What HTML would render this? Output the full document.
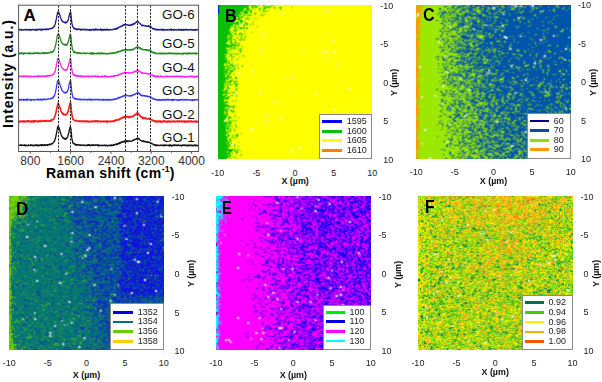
<!DOCTYPE html>
<html><head><meta charset="utf-8">
<style>
html,body{margin:0;padding:0;background:#fff;}
body{width:602px;height:382px;position:relative;overflow:hidden;font-family:"Liberation Sans",sans-serif;color:#222;}
.a{position:absolute;left:0;top:0;}
.go{position:absolute;right:407.4px;font-size:13.3px;line-height:13.3px;color:#111;white-space:nowrap;}
.xt{position:absolute;top:154.5px;width:40px;text-align:center;font-size:12px;line-height:12px;color:#333;}
.lab{position:absolute;font-weight:bold;color:#000;white-space:nowrap;}
.m{position:absolute;width:154px;height:154px;}
.m canvas{position:absolute;left:0;top:0;width:154px;height:154px;}
.pl{position:absolute;font-weight:bold;font-size:17.5px;line-height:17.5px;color:#000;}
.tk{position:absolute;font-size:9px;line-height:9px;color:#222;white-space:nowrap;}
.xl{position:absolute;font-weight:bold;font-size:8.9px;line-height:8.9px;color:#111;white-space:nowrap;width:60px;text-align:center;}
.yl{position:absolute;font-weight:bold;font-size:8.9px;line-height:8.9px;color:#111;white-space:nowrap;transform:rotate(-90deg);transform-origin:0 0;}
.lg{position:absolute;background:#fff;border:1px solid #8a8a8a;box-sizing:border-box;}
.lg i{position:absolute;height:3px;width:19.5px;}
.lg b{position:absolute;font-weight:normal;font-size:9px;line-height:9px;color:#222;}
</style></head><body>
<svg class="a" width="210" height="185" viewBox="0 0 210 185">
<g fill="none" stroke-width="1.3" stroke-linejoin="round"><path d="M18.5 29.82 L18.7 29.60 L19.0 29.81 L19.2 29.83 L19.5 30.01 L19.7 29.80 L20.0 29.43 L20.2 29.62 L20.5 29.45 L20.7 29.67 L21.0 29.63 L21.2 29.69 L21.5 30.21 L21.8 29.50 L22.0 29.60 L22.3 29.60 L22.5 30.21 L22.8 30.22 L23.0 29.98 L23.3 29.86 L23.5 29.65 L23.8 29.74 L24.0 29.59 L24.3 29.91 L24.5 29.64 L24.8 29.62 L25.0 29.91 L25.3 29.25 L25.5 29.57 L25.8 29.39 L26.0 29.90 L26.3 29.93 L26.5 29.82 L26.8 29.75 L27.0 29.54 L27.3 29.65 L27.5 29.84 L27.8 29.98 L28.1 29.86 L28.3 29.37 L28.6 29.94 L28.8 29.64 L29.1 29.59 L29.3 30.12 L29.6 29.69 L29.8 29.34 L30.1 30.27 L30.3 29.79 L30.6 29.73 L30.8 29.93 L31.1 29.56 L31.3 29.71 L31.6 30.10 L31.8 29.46 L32.1 29.50 L32.3 29.42 L32.6 29.28 L32.8 29.58 L33.1 29.65 L33.3 30.04 L33.6 29.50 L33.8 29.84 L34.1 29.80 L34.4 30.02 L34.6 29.94 L34.9 29.81 L35.1 29.30 L35.4 30.23 L35.6 30.06 L35.9 29.58 L36.1 29.24 L36.4 29.48 L36.6 30.17 L36.9 30.34 L37.1 29.53 L37.4 29.84 L37.6 29.94 L37.9 29.35 L38.1 29.31 L38.4 29.57 L38.6 29.54 L38.9 29.49 L39.1 29.16 L39.4 29.42 L39.6 29.45 L39.9 29.43 L40.1 30.02 L40.4 29.22 L40.7 29.30 L40.9 29.42 L41.2 30.11 L41.4 29.73 L41.7 29.31 L41.9 30.05 L42.2 29.58 L42.4 29.24 L42.7 29.88 L42.9 29.06 L43.2 29.34 L43.4 29.53 L43.7 29.39 L43.9 29.29 L44.2 29.42 L44.4 29.13 L44.7 29.62 L44.9 29.54 L45.2 29.12 L45.4 29.39 L45.7 29.63 L45.9 29.10 L46.2 28.94 L46.4 29.46 L46.7 29.70 L47.0 29.33 L47.2 29.31 L47.5 29.33 L47.7 28.83 L48.0 29.49 L48.2 28.82 L48.5 29.50 L48.7 29.34 L49.0 28.90 L49.2 28.73 L49.5 28.77 L49.7 28.87 L50.0 28.88 L50.2 28.83 L50.5 28.65 L50.7 28.80 L51.0 28.61 L51.2 28.45 L51.5 28.53 L51.7 28.23 L52.0 28.18 L52.2 27.66 L52.5 28.00 L52.7 28.05 L53.0 27.85 L53.3 27.54 L53.5 27.02 L53.8 27.07 L54.0 26.50 L54.3 25.67 L54.5 26.39 L54.8 25.39 L55.0 24.31 L55.3 23.46 L55.5 22.58 L55.8 21.73 L56.0 20.28 L56.3 19.13 L56.5 18.02 L56.8 15.83 L57.0 15.07 L57.3 14.10 L57.5 12.95 L57.8 12.28 L58.0 11.93 L58.3 12.68 L58.5 12.27 L58.8 12.25 L59.0 13.41 L59.3 13.77 L59.6 14.22 L59.8 15.01 L60.1 15.62 L60.3 17.27 L60.6 17.62 L60.8 18.30 L61.1 18.66 L61.3 19.09 L61.6 20.66 L61.8 20.06 L62.1 21.17 L62.3 20.91 L62.6 21.82 L62.8 21.61 L63.1 21.53 L63.3 22.09 L63.6 22.15 L63.8 22.11 L64.1 22.40 L64.3 22.55 L64.6 22.16 L64.8 22.35 L65.1 22.77 L65.3 21.94 L65.6 23.03 L65.9 22.42 L66.1 22.69 L66.4 22.47 L66.6 22.15 L66.9 22.07 L67.1 21.66 L67.4 21.89 L67.6 21.41 L67.9 20.25 L68.1 20.01 L68.4 19.23 L68.6 18.46 L68.9 16.71 L69.1 15.81 L69.4 14.54 L69.6 14.21 L69.9 13.08 L70.1 12.78 L70.4 11.95 L70.6 11.91 L70.9 14.08 L71.1 15.78 L71.4 18.52 L71.6 21.18 L71.9 23.62 L72.2 24.18 L72.4 25.72 L72.7 26.68 L72.9 26.99 L73.2 27.41 L73.4 27.42 L73.7 28.37 L73.9 27.97 L74.2 28.03 L74.4 28.17 L74.7 28.74 L74.9 28.99 L75.2 28.58 L75.4 28.90 L75.7 28.96 L75.9 28.65 L76.2 29.17 L76.4 29.79 L76.7 29.29 L76.9 29.73 L77.2 29.02 L77.4 29.18 L77.7 29.47 L77.9 29.32 L78.2 29.11 L78.5 29.34 L78.7 29.01 L79.0 29.41 L79.2 29.12 L79.5 29.01 L79.7 28.99 L80.0 29.64 L80.2 29.22 L80.5 30.00 L80.7 29.79 L81.0 30.05 L81.2 29.21 L81.5 29.86 L81.7 29.53 L82.0 29.58 L82.2 29.55 L82.5 29.71 L82.7 29.49 L83.0 29.06 L83.2 29.55 L83.5 29.42 L83.7 29.30 L84.0 29.64 L84.2 29.94 L84.5 29.75 L84.8 29.30 L85.0 30.06 L85.3 29.77 L85.5 29.33 L85.8 29.39 L86.0 29.62 L86.3 29.40 L86.5 29.58 L86.8 29.96 L87.0 30.07 L87.3 29.82 L87.5 29.38 L87.8 29.80 L88.0 29.90 L88.3 29.87 L88.5 30.08 L88.8 29.69 L89.0 29.99 L89.3 29.56 L89.5 30.32 L89.8 29.57 L90.0 29.85 L90.3 30.22 L90.5 29.47 L90.8 29.75 L91.1 30.30 L91.3 29.93 L91.6 29.60 L91.8 29.81 L92.1 29.47 L92.3 29.48 L92.6 29.50 L92.8 29.60 L93.1 29.32 L93.3 29.51 L93.6 29.57 L93.8 30.28 L94.1 29.45 L94.3 29.33 L94.6 29.79 L94.8 29.84 L95.1 29.16 L95.3 30.20 L95.6 29.58 L95.8 29.03 L96.1 29.97 L96.3 29.52 L96.6 29.19 L96.8 29.75 L97.1 29.56 L97.4 29.46 L97.6 29.97 L97.9 29.74 L98.1 29.64 L98.4 29.49 L98.6 29.73 L98.9 29.78 L99.1 30.01 L99.4 29.83 L99.6 29.48 L99.9 29.70 L100.1 29.97 L100.4 29.97 L100.6 28.98 L100.9 29.41 L101.1 29.55 L101.4 30.46 L101.6 29.56 L101.9 29.60 L102.1 29.26 L102.4 29.62 L102.6 29.76 L102.9 29.59 L103.1 30.28 L103.4 29.45 L103.7 29.65 L103.9 29.94 L104.2 29.37 L104.4 29.24 L104.7 30.14 L104.9 29.93 L105.2 29.66 L105.4 29.69 L105.7 29.86 L105.9 30.02 L106.2 29.15 L106.4 29.46 L106.7 30.08 L106.9 30.12 L107.2 29.27 L107.4 29.47 L107.7 29.24 L107.9 29.52 L108.2 30.00 L108.4 29.68 L108.7 30.36 L108.9 29.96 L109.2 29.77 L109.4 29.60 L109.7 29.95 L110.0 29.77 L110.2 29.59 L110.5 29.59 L110.7 29.50 L111.0 29.59 L111.2 29.71 L111.5 29.38 L111.7 29.56 L112.0 29.78 L112.2 29.70 L112.5 29.49 L112.7 29.50 L113.0 29.40 L113.2 29.41 L113.5 29.33 L113.7 29.38 L114.0 29.65 L114.2 29.12 L114.5 28.87 L114.7 28.97 L115.0 29.06 L115.2 28.80 L115.5 29.11 L115.7 29.29 L116.0 28.66 L116.3 28.86 L116.5 28.31 L116.8 28.73 L117.0 29.08 L117.3 28.55 L117.5 27.73 L117.8 28.19 L118.0 28.36 L118.3 28.08 L118.5 27.61 L118.8 27.49 L119.0 27.45 L119.3 26.96 L119.5 27.05 L119.8 27.12 L120.0 26.82 L120.3 26.39 L120.5 26.46 L120.8 26.31 L121.0 26.77 L121.3 26.38 L121.5 26.01 L121.8 26.18 L122.0 25.67 L122.3 25.69 L122.6 25.49 L122.8 25.70 L123.1 24.82 L123.3 25.08 L123.6 25.38 L123.8 25.19 L124.1 24.38 L124.3 25.10 L124.6 24.65 L124.8 24.53 L125.1 24.71 L125.3 24.97 L125.6 24.55 L125.8 24.50 L126.1 24.31 L126.3 24.45 L126.6 24.72 L126.8 24.55 L127.1 24.69 L127.3 24.85 L127.6 24.95 L127.8 25.10 L128.1 24.89 L128.3 25.42 L128.6 25.33 L128.9 25.16 L129.1 25.56 L129.4 25.26 L129.6 25.67 L129.9 25.28 L130.1 24.90 L130.4 24.87 L130.6 25.02 L130.9 25.04 L131.1 25.33 L131.4 24.38 L131.6 24.67 L131.9 24.42 L132.1 24.86 L132.4 24.54 L132.6 24.87 L132.9 24.00 L133.1 23.82 L133.4 24.48 L133.6 23.83 L133.9 23.50 L134.1 24.03 L134.4 23.91 L134.6 23.56 L134.9 23.30 L135.2 23.37 L135.4 22.81 L135.7 22.59 L135.9 22.32 L136.2 22.14 L136.4 21.75 L136.7 21.68 L136.9 22.21 L137.2 21.84 L137.4 21.88 L137.7 21.81 L137.9 21.54 L138.2 21.62 L138.4 21.66 L138.7 22.47 L138.9 22.62 L139.2 22.55 L139.4 22.86 L139.7 23.16 L139.9 23.35 L140.2 23.80 L140.4 23.64 L140.7 23.99 L140.9 24.36 L141.2 24.75 L141.5 24.82 L141.7 25.70 L142.0 25.35 L142.2 25.15 L142.5 25.66 L142.7 25.24 L143.0 25.30 L143.2 25.78 L143.5 25.51 L143.7 25.58 L144.0 25.41 L144.2 25.42 L144.5 25.65 L144.7 25.93 L145.0 25.78 L145.2 25.81 L145.5 25.63 L145.7 25.81 L146.0 26.14 L146.2 26.35 L146.5 26.12 L146.7 26.26 L147.0 26.39 L147.2 26.15 L147.5 26.28 L147.8 26.15 L148.0 26.06 L148.3 26.35 L148.5 25.62 L148.8 26.39 L149.0 26.02 L149.3 26.33 L149.5 26.09 L149.8 27.12 L150.0 26.74 L150.3 26.56 L150.5 26.61 L150.8 26.30 L151.0 27.06 L151.3 27.00 L151.5 27.35 L151.8 27.50 L152.0 27.82 L152.3 28.19 L152.5 28.18 L152.8 28.80 L153.0 28.34 L153.3 29.11 L153.5 28.90 L153.8 28.50 L154.1 29.26 L154.3 29.27 L154.6 29.01 L154.8 29.38 L155.1 29.67 L155.3 29.42 L155.6 29.38 L155.8 29.39 L156.1 29.85 L156.3 29.19 L156.6 29.25 L156.8 29.74 L157.1 29.69 L157.3 29.90 L157.6 29.39 L157.8 29.98 L158.1 29.60 L158.3 29.92 L158.6 29.98 L158.8 29.59 L159.1 29.42 L159.3 29.79 L159.6 29.98 L159.8 29.56 L160.1 29.80 L160.4 29.70 L160.6 29.36 L160.9 29.47 L161.1 29.93 L161.4 29.15 L161.6 29.79 L161.9 29.57 L162.1 29.97 L162.4 29.80 L162.6 30.28 L162.9 29.29 L163.1 29.41 L163.4 30.13 L163.6 30.21 L163.9 30.24 L164.1 29.46 L164.4 29.92 L164.6 29.81 L164.9 29.88 L165.1 29.82 L165.4 30.09 L165.6 29.78 L165.9 30.19 L166.1 29.81 L166.4 29.70 L166.7 29.66 L166.9 29.85 L167.2 30.04 L167.4 29.75 L167.7 29.93 L167.9 29.35 L168.2 29.58 L168.4 29.82 L168.7 29.92 L168.9 29.99 L169.2 30.05 L169.4 29.89 L169.7 29.71 L169.9 29.65 L170.2 29.63 L170.4 29.20 L170.7 29.99 L170.9 29.79 L171.2 29.01 L171.4 30.31 L171.7 29.94 L171.9 29.74 L172.2 29.75 L172.4 29.68 L172.7 29.86 L173.0 29.69 L173.2 29.78 L173.5 29.58 L173.7 30.32 L174.0 30.04 L174.2 29.79 L174.5 30.08 L174.7 30.08 L175.0 29.62 L175.2 29.97 L175.5 29.61 L175.7 29.58 L176.0 29.71 L176.2 29.65 L176.5 29.82 L176.7 30.19 L177.0 29.80 L177.2 29.66 L177.5 29.94 L177.7 29.82 L178.0 29.58 L178.2 30.04 L178.5 29.61 L178.7 29.27 L179.0 29.95 L179.3 29.75 L179.5 29.83 L179.8 29.36 L180.0 29.70 L180.3 29.54 L180.5 29.99 L180.8 29.80 L181.0 29.80 L181.3 30.29 L181.5 29.39 L181.8 29.54 L182.0 30.28 L182.3 29.58 L182.5 29.83 L182.8 29.67 L183.0 29.69 L183.3 30.21 L183.5 29.85 L183.8 29.37 L184.0 29.95 L184.3 30.08 L184.5 30.17 L184.8 30.13 L185.0 29.70 L185.3 29.32 L185.6 29.67 L185.8 29.72 L186.1 29.17 L186.3 29.94 L186.6 29.98 L186.8 29.65 L187.1 29.64 L187.3 30.08 L187.6 30.12 L187.8 29.71 L188.1 29.72 L188.3 30.16 L188.6 29.85 L188.8 29.95 L189.1 29.66 L189.3 29.83 L189.6 29.82 L189.8 29.89 L190.1 29.50 L190.3 29.40 L190.6 29.90 L190.8 29.56 L191.1 30.01 L191.3 29.77 L191.6 29.58 L191.9 29.37 L192.1 29.90 L192.4 29.81 L192.6 29.74 L192.9 30.21 L193.1 29.79 L193.4 29.98 L193.6 29.69 L193.9 30.11 L194.1 30.35 L194.4 29.78 L194.6 29.72 L194.9 29.95 L195.1 29.54 L195.4 29.87 L195.6 29.96 L195.9 29.66 L196.1 30.23 L196.4 29.98 L196.6 29.80 L196.9 29.56 L197.1 29.84 L197.4 29.71 L197.6 29.98 L197.9 29.71 L198.2 29.33" stroke="#1c1c8a"/><path d="M18.5 53.64 L18.7 52.78 L19.0 53.62 L19.2 53.44 L19.5 53.39 L19.7 53.15 L20.0 53.79 L20.2 54.03 L20.5 53.27 L20.7 53.21 L21.0 53.26 L21.2 52.70 L21.5 53.38 L21.8 53.36 L22.0 53.17 L22.3 53.33 L22.5 52.97 L22.8 53.78 L23.0 53.53 L23.3 54.39 L23.5 53.20 L23.8 53.53 L24.0 53.17 L24.3 52.82 L24.5 53.42 L24.8 53.49 L25.0 53.56 L25.3 53.65 L25.5 53.60 L25.8 53.24 L26.0 53.41 L26.3 53.40 L26.5 53.46 L26.8 53.16 L27.0 53.27 L27.3 53.45 L27.5 53.22 L27.8 53.45 L28.1 53.73 L28.3 53.00 L28.6 53.27 L28.8 53.67 L29.1 53.10 L29.3 53.30 L29.6 53.84 L29.8 52.94 L30.1 53.30 L30.3 53.14 L30.6 53.33 L30.8 53.43 L31.1 53.82 L31.3 53.11 L31.6 53.37 L31.8 53.46 L32.1 53.28 L32.3 53.35 L32.6 53.18 L32.8 53.48 L33.1 53.38 L33.3 53.97 L33.6 53.48 L33.8 53.17 L34.1 52.99 L34.4 53.46 L34.6 53.39 L34.9 52.91 L35.1 53.44 L35.4 53.14 L35.6 52.87 L35.9 53.33 L36.1 52.99 L36.4 53.53 L36.6 53.27 L36.9 53.35 L37.1 53.29 L37.4 53.00 L37.6 52.64 L37.9 53.50 L38.1 53.47 L38.4 53.16 L38.6 53.59 L38.9 53.15 L39.1 53.13 L39.4 53.36 L39.6 53.13 L39.9 53.70 L40.1 53.05 L40.4 53.69 L40.7 53.45 L40.9 53.40 L41.2 53.35 L41.4 52.99 L41.7 53.20 L41.9 53.33 L42.2 53.06 L42.4 52.76 L42.7 53.19 L42.9 53.08 L43.2 52.82 L43.4 53.09 L43.7 53.51 L43.9 52.44 L44.2 52.51 L44.4 53.67 L44.7 53.11 L44.9 52.97 L45.2 52.81 L45.4 52.87 L45.7 53.12 L45.9 53.32 L46.2 52.98 L46.4 52.70 L46.7 53.28 L47.0 53.24 L47.2 52.93 L47.5 53.45 L47.7 52.95 L48.0 52.97 L48.2 52.69 L48.5 52.99 L48.7 53.00 L49.0 52.83 L49.2 52.69 L49.5 52.82 L49.7 52.59 L50.0 52.33 L50.2 52.16 L50.5 51.95 L50.7 52.58 L51.0 52.41 L51.2 52.91 L51.5 51.59 L51.7 52.23 L52.0 51.92 L52.2 51.64 L52.5 52.02 L52.7 51.33 L53.0 51.27 L53.3 51.54 L53.5 50.67 L53.8 50.08 L54.0 50.54 L54.3 49.32 L54.5 48.93 L54.8 48.21 L55.0 47.45 L55.3 46.33 L55.5 45.75 L55.8 44.30 L56.0 43.40 L56.3 41.71 L56.5 40.68 L56.8 38.99 L57.0 37.00 L57.3 36.01 L57.5 35.06 L57.8 34.55 L58.0 34.09 L58.3 33.80 L58.5 33.80 L58.8 34.36 L59.0 34.90 L59.3 35.75 L59.6 36.13 L59.8 37.43 L60.1 38.29 L60.3 38.68 L60.6 39.66 L60.8 40.46 L61.1 41.19 L61.3 41.69 L61.6 41.96 L61.8 42.49 L62.1 43.33 L62.3 43.21 L62.6 43.57 L62.8 44.15 L63.1 43.86 L63.3 44.33 L63.6 44.49 L63.8 44.30 L64.1 44.26 L64.3 44.91 L64.6 44.67 L64.8 45.10 L65.1 44.26 L65.3 45.08 L65.6 44.62 L65.9 45.13 L66.1 44.68 L66.4 44.20 L66.6 45.40 L66.9 44.61 L67.1 44.07 L67.4 43.87 L67.6 43.56 L67.9 42.20 L68.1 42.08 L68.4 41.76 L68.6 40.13 L68.9 39.84 L69.1 37.95 L69.4 37.33 L69.6 36.08 L69.9 34.87 L70.1 34.55 L70.4 34.68 L70.6 35.00 L70.9 35.81 L71.1 38.52 L71.4 41.75 L71.6 43.81 L71.9 46.01 L72.2 47.60 L72.4 49.63 L72.7 49.97 L72.9 50.28 L73.2 50.80 L73.4 51.10 L73.7 52.31 L73.9 51.79 L74.2 51.88 L74.4 51.45 L74.7 52.55 L74.9 52.48 L75.2 52.47 L75.4 52.31 L75.7 52.75 L75.9 52.37 L76.2 52.96 L76.4 52.71 L76.7 52.98 L76.9 52.82 L77.2 53.09 L77.4 53.38 L77.7 52.65 L77.9 52.90 L78.2 53.16 L78.5 52.97 L78.7 52.77 L79.0 53.34 L79.2 53.11 L79.5 52.94 L79.7 52.96 L80.0 53.22 L80.2 53.73 L80.5 52.80 L80.7 53.07 L81.0 53.17 L81.2 53.26 L81.5 53.12 L81.7 53.32 L82.0 53.49 L82.2 53.42 L82.5 53.39 L82.7 53.40 L83.0 53.56 L83.2 53.07 L83.5 53.62 L83.7 53.07 L84.0 53.55 L84.2 53.17 L84.5 52.89 L84.8 53.22 L85.0 53.49 L85.3 53.28 L85.5 53.25 L85.8 53.79 L86.0 53.47 L86.3 53.26 L86.5 53.44 L86.8 53.29 L87.0 53.12 L87.3 53.11 L87.5 53.07 L87.8 53.17 L88.0 53.42 L88.3 53.34 L88.5 53.42 L88.8 53.43 L89.0 53.40 L89.3 53.83 L89.5 53.45 L89.8 53.36 L90.0 53.63 L90.3 53.37 L90.5 53.22 L90.8 53.41 L91.1 52.79 L91.3 54.10 L91.6 53.43 L91.8 53.89 L92.1 53.10 L92.3 52.64 L92.6 54.08 L92.8 53.35 L93.1 53.24 L93.3 53.47 L93.6 53.23 L93.8 54.02 L94.1 53.15 L94.3 53.29 L94.6 53.39 L94.8 53.56 L95.1 53.22 L95.3 53.54 L95.6 53.34 L95.8 53.55 L96.1 54.03 L96.3 53.41 L96.6 53.35 L96.8 53.20 L97.1 53.65 L97.4 53.42 L97.6 53.24 L97.9 53.37 L98.1 53.07 L98.4 52.86 L98.6 53.67 L98.9 53.96 L99.1 53.18 L99.4 52.99 L99.6 53.16 L99.9 53.19 L100.1 53.60 L100.4 53.62 L100.6 53.18 L100.9 53.68 L101.1 53.93 L101.4 53.71 L101.6 52.73 L101.9 52.89 L102.1 53.62 L102.4 53.64 L102.6 53.37 L102.9 53.64 L103.1 53.07 L103.4 53.46 L103.7 53.74 L103.9 53.07 L104.2 53.60 L104.4 53.38 L104.7 53.44 L104.9 53.53 L105.2 53.35 L105.4 53.63 L105.7 53.96 L105.9 54.06 L106.2 53.80 L106.4 53.65 L106.7 53.45 L106.9 53.43 L107.2 53.29 L107.4 53.41 L107.7 53.67 L107.9 53.64 L108.2 54.04 L108.4 53.49 L108.7 53.31 L108.9 53.30 L109.2 53.48 L109.4 53.50 L109.7 53.18 L110.0 53.43 L110.2 53.22 L110.5 53.25 L110.7 53.33 L111.0 53.01 L111.2 53.51 L111.5 53.43 L111.7 53.54 L112.0 53.52 L112.2 52.84 L112.5 52.76 L112.7 53.23 L113.0 53.06 L113.2 52.87 L113.5 52.94 L113.7 52.80 L114.0 53.46 L114.2 53.24 L114.5 52.88 L114.7 52.55 L115.0 52.86 L115.2 53.07 L115.5 52.86 L115.7 52.89 L116.0 52.88 L116.3 52.16 L116.5 52.69 L116.8 52.45 L117.0 51.79 L117.3 52.00 L117.5 52.17 L117.8 52.36 L118.0 52.00 L118.3 51.58 L118.5 51.77 L118.8 51.50 L119.0 51.73 L119.3 51.51 L119.5 51.62 L119.8 51.34 L120.0 51.00 L120.3 51.67 L120.5 51.19 L120.8 51.01 L121.0 51.14 L121.3 50.97 L121.5 50.56 L121.8 50.13 L122.0 50.43 L122.3 50.42 L122.6 50.87 L122.8 49.81 L123.1 50.25 L123.3 50.20 L123.6 50.42 L123.8 50.05 L124.1 50.26 L124.3 49.85 L124.6 49.66 L124.8 49.71 L125.1 49.57 L125.3 49.84 L125.6 49.17 L125.8 49.75 L126.1 50.09 L126.3 49.67 L126.6 49.87 L126.8 49.99 L127.1 49.85 L127.3 49.72 L127.6 50.18 L127.8 49.93 L128.1 49.53 L128.3 49.77 L128.6 50.02 L128.9 49.95 L129.1 50.02 L129.4 49.98 L129.6 49.75 L129.9 49.96 L130.1 50.59 L130.4 49.90 L130.6 50.12 L130.9 49.67 L131.1 49.99 L131.4 49.74 L131.6 49.12 L131.9 49.95 L132.1 49.89 L132.4 49.87 L132.6 50.04 L132.9 49.79 L133.1 49.06 L133.4 49.23 L133.6 49.47 L133.9 49.25 L134.1 48.56 L134.4 48.84 L134.6 48.62 L134.9 48.31 L135.2 47.91 L135.4 47.63 L135.7 47.76 L135.9 47.88 L136.2 47.74 L136.4 47.15 L136.7 47.13 L136.9 47.49 L137.2 47.16 L137.4 47.10 L137.7 47.10 L137.9 47.25 L138.2 47.52 L138.4 47.40 L138.7 47.81 L138.9 47.18 L139.2 47.53 L139.4 48.18 L139.7 47.61 L139.9 47.90 L140.2 48.84 L140.4 47.95 L140.7 48.39 L140.9 48.18 L141.2 49.25 L141.5 48.88 L141.7 49.02 L142.0 49.17 L142.2 49.25 L142.5 49.06 L142.7 49.82 L143.0 49.79 L143.2 49.88 L143.5 49.69 L143.7 49.75 L144.0 49.52 L144.2 49.60 L144.5 49.71 L144.7 49.95 L145.0 49.93 L145.2 49.59 L145.5 49.68 L145.7 49.91 L146.0 50.07 L146.2 49.59 L146.5 50.22 L146.7 49.91 L147.0 49.79 L147.2 50.22 L147.5 49.94 L147.8 50.52 L148.0 49.95 L148.3 50.20 L148.5 50.73 L148.8 50.13 L149.0 50.59 L149.3 50.02 L149.5 50.60 L149.8 50.50 L150.0 50.44 L150.3 50.71 L150.5 50.68 L150.8 51.07 L151.0 50.90 L151.3 51.28 L151.5 51.41 L151.8 52.42 L152.0 51.50 L152.3 51.99 L152.5 52.65 L152.8 52.29 L153.0 52.34 L153.3 52.31 L153.5 53.05 L153.8 52.43 L154.1 52.99 L154.3 52.35 L154.6 53.12 L154.8 52.93 L155.1 53.27 L155.3 53.53 L155.6 52.95 L155.8 53.05 L156.1 52.92 L156.3 53.15 L156.6 53.59 L156.8 53.92 L157.1 53.65 L157.3 53.67 L157.6 53.71 L157.8 53.32 L158.1 53.40 L158.3 53.56 L158.6 53.44 L158.8 53.53 L159.1 53.43 L159.3 53.28 L159.6 53.22 L159.8 53.68 L160.1 53.91 L160.4 53.09 L160.6 53.46 L160.9 53.18 L161.1 53.95 L161.4 53.58 L161.6 53.48 L161.9 53.89 L162.1 53.63 L162.4 53.29 L162.6 53.19 L162.9 53.04 L163.1 53.73 L163.4 53.88 L163.6 53.34 L163.9 53.23 L164.1 53.43 L164.4 53.85 L164.6 53.27 L164.9 53.27 L165.1 53.33 L165.4 53.63 L165.6 53.40 L165.9 53.27 L166.1 53.65 L166.4 54.01 L166.7 53.40 L166.9 53.35 L167.2 53.49 L167.4 53.24 L167.7 53.65 L167.9 53.51 L168.2 53.57 L168.4 53.33 L168.7 53.04 L168.9 53.56 L169.2 52.91 L169.4 53.06 L169.7 53.27 L169.9 53.33 L170.2 52.99 L170.4 53.54 L170.7 53.52 L170.9 53.79 L171.2 53.36 L171.4 53.11 L171.7 53.34 L171.9 53.37 L172.2 53.55 L172.4 53.44 L172.7 53.89 L173.0 53.20 L173.2 53.61 L173.5 53.80 L173.7 53.70 L174.0 53.72 L174.2 53.25 L174.5 53.19 L174.7 53.87 L175.0 53.23 L175.2 53.24 L175.5 53.65 L175.7 53.91 L176.0 53.70 L176.2 53.67 L176.5 53.40 L176.7 53.59 L177.0 54.06 L177.2 53.43 L177.5 53.92 L177.7 53.24 L178.0 53.83 L178.2 53.69 L178.5 53.73 L178.7 53.64 L179.0 53.13 L179.3 53.25 L179.5 53.32 L179.8 53.40 L180.0 53.92 L180.3 53.64 L180.5 53.65 L180.8 53.77 L181.0 53.35 L181.3 53.70 L181.5 53.69 L181.8 53.78 L182.0 54.07 L182.3 53.33 L182.5 53.12 L182.8 53.44 L183.0 53.77 L183.3 54.25 L183.5 53.44 L183.8 53.15 L184.0 53.41 L184.3 53.23 L184.5 53.08 L184.8 53.18 L185.0 53.62 L185.3 53.20 L185.6 53.28 L185.8 53.92 L186.1 53.61 L186.3 53.89 L186.6 53.52 L186.8 53.33 L187.1 53.79 L187.3 54.07 L187.6 53.13 L187.8 53.39 L188.1 53.08 L188.3 53.86 L188.6 53.20 L188.8 52.91 L189.1 52.93 L189.3 53.55 L189.6 53.42 L189.8 53.54 L190.1 53.21 L190.3 53.20 L190.6 53.47 L190.8 53.87 L191.1 53.29 L191.3 53.62 L191.6 53.32 L191.9 53.42 L192.1 53.04 L192.4 53.17 L192.6 53.62 L192.9 53.40 L193.1 53.00 L193.4 53.64 L193.6 53.37 L193.9 53.16 L194.1 53.14 L194.4 53.35 L194.6 53.86 L194.9 53.85 L195.1 53.42 L195.4 53.38 L195.6 52.78 L195.9 53.73 L196.1 53.17 L196.4 53.28 L196.6 53.96 L196.9 53.72 L197.1 53.45 L197.4 53.63 L197.6 53.54 L197.9 53.36 L198.2 53.72" stroke="#1e8a1e"/><path d="M18.5 76.32 L18.7 76.62 L19.0 76.60 L19.2 76.29 L19.5 76.60 L19.7 76.36 L20.0 76.00 L20.2 76.43 L20.5 76.48 L20.7 76.23 L21.0 76.54 L21.2 76.14 L21.5 76.80 L21.8 76.26 L22.0 76.58 L22.3 76.66 L22.5 75.94 L22.8 76.67 L23.0 75.94 L23.3 76.25 L23.5 76.03 L23.8 76.70 L24.0 76.09 L24.3 76.02 L24.5 76.46 L24.8 76.46 L25.0 75.74 L25.3 76.38 L25.5 76.54 L25.8 76.60 L26.0 76.30 L26.3 76.33 L26.5 76.37 L26.8 75.94 L27.0 76.51 L27.3 76.28 L27.5 76.01 L27.8 76.69 L28.1 76.12 L28.3 75.90 L28.6 76.79 L28.8 76.72 L29.1 76.70 L29.3 76.92 L29.6 76.28 L29.8 76.92 L30.1 76.26 L30.3 75.99 L30.6 76.85 L30.8 76.48 L31.1 76.93 L31.3 76.17 L31.6 76.60 L31.8 76.46 L32.1 76.37 L32.3 76.23 L32.6 76.48 L32.8 76.38 L33.1 76.53 L33.3 76.34 L33.6 76.70 L33.8 76.35 L34.1 76.91 L34.4 76.50 L34.6 75.83 L34.9 76.34 L35.1 76.71 L35.4 76.28 L35.6 76.62 L35.9 76.81 L36.1 76.55 L36.4 76.14 L36.6 76.23 L36.9 76.36 L37.1 76.59 L37.4 76.63 L37.6 75.95 L37.9 76.25 L38.1 76.58 L38.4 76.90 L38.6 76.69 L38.9 75.61 L39.1 76.62 L39.4 76.32 L39.6 76.23 L39.9 76.33 L40.1 76.36 L40.4 76.66 L40.7 76.56 L40.9 75.79 L41.2 76.47 L41.4 76.01 L41.7 76.72 L41.9 76.31 L42.2 76.15 L42.4 75.93 L42.7 76.53 L42.9 76.04 L43.2 76.09 L43.4 76.39 L43.7 76.04 L43.9 76.42 L44.2 76.38 L44.4 76.15 L44.7 76.89 L44.9 76.15 L45.2 76.38 L45.4 76.50 L45.7 76.19 L45.9 75.85 L46.2 76.16 L46.4 75.67 L46.7 76.33 L47.0 76.35 L47.2 75.53 L47.5 75.83 L47.7 75.66 L48.0 76.13 L48.2 75.64 L48.5 75.76 L48.7 75.62 L49.0 75.77 L49.2 75.40 L49.5 75.88 L49.7 75.92 L50.0 76.02 L50.2 75.23 L50.5 75.71 L50.7 75.73 L51.0 75.64 L51.2 75.43 L51.5 75.57 L51.7 75.21 L52.0 75.20 L52.2 75.06 L52.5 75.04 L52.7 74.60 L53.0 74.55 L53.3 74.18 L53.5 73.88 L53.8 73.55 L54.0 73.89 L54.3 73.00 L54.5 72.56 L54.8 71.51 L55.0 71.47 L55.3 70.42 L55.5 69.37 L55.8 68.34 L56.0 66.81 L56.3 65.95 L56.5 64.21 L56.8 63.52 L57.0 62.27 L57.3 60.19 L57.5 59.40 L57.8 58.68 L58.0 58.48 L58.3 58.41 L58.5 59.12 L58.8 58.94 L59.0 59.93 L59.3 60.20 L59.6 61.22 L59.8 62.61 L60.1 63.23 L60.3 63.35 L60.6 64.47 L60.8 65.26 L61.1 65.75 L61.3 66.54 L61.6 67.12 L61.8 67.43 L62.1 67.85 L62.3 67.84 L62.6 68.57 L62.8 68.34 L63.1 68.60 L63.3 68.82 L63.6 69.17 L63.8 69.57 L64.1 69.69 L64.3 69.86 L64.6 70.10 L64.8 69.96 L65.1 70.16 L65.3 69.53 L65.6 69.82 L65.9 70.05 L66.1 70.38 L66.4 69.73 L66.6 69.65 L66.9 69.59 L67.1 69.27 L67.4 69.17 L67.6 67.87 L67.9 67.44 L68.1 65.97 L68.4 65.86 L68.6 64.95 L68.9 63.47 L69.1 62.74 L69.4 61.62 L69.6 60.72 L69.9 59.88 L70.1 58.63 L70.4 58.44 L70.6 58.42 L70.9 60.48 L71.1 62.78 L71.4 65.65 L71.6 67.50 L71.9 70.12 L72.2 71.09 L72.4 72.08 L72.7 72.81 L72.9 74.06 L73.2 73.92 L73.4 74.74 L73.7 75.00 L73.9 75.35 L74.2 74.82 L74.4 74.81 L74.7 75.55 L74.9 75.69 L75.2 75.65 L75.4 74.93 L75.7 75.41 L75.9 75.90 L76.2 76.30 L76.4 76.02 L76.7 75.54 L76.9 75.38 L77.2 76.01 L77.4 76.16 L77.7 76.13 L77.9 76.54 L78.2 75.78 L78.5 76.36 L78.7 75.78 L79.0 76.57 L79.2 76.46 L79.5 76.04 L79.7 76.35 L80.0 75.93 L80.2 76.16 L80.5 76.50 L80.7 76.01 L81.0 75.96 L81.2 76.74 L81.5 75.70 L81.7 76.08 L82.0 76.01 L82.2 76.76 L82.5 76.44 L82.7 76.35 L83.0 75.95 L83.2 76.67 L83.5 76.52 L83.7 76.84 L84.0 76.35 L84.2 76.19 L84.5 76.76 L84.8 76.46 L85.0 76.16 L85.3 75.86 L85.5 76.12 L85.8 76.40 L86.0 76.65 L86.3 76.58 L86.5 76.51 L86.8 76.29 L87.0 76.35 L87.3 75.87 L87.5 76.26 L87.8 76.64 L88.0 75.91 L88.3 76.08 L88.5 76.32 L88.8 76.56 L89.0 76.88 L89.3 76.65 L89.5 76.11 L89.8 76.59 L90.0 76.74 L90.3 76.31 L90.5 76.30 L90.8 76.20 L91.1 76.19 L91.3 75.98 L91.6 76.62 L91.8 76.11 L92.1 76.66 L92.3 76.19 L92.6 76.34 L92.8 76.32 L93.1 76.12 L93.3 76.40 L93.6 76.08 L93.8 76.15 L94.1 76.36 L94.3 76.56 L94.6 76.61 L94.8 76.55 L95.1 76.46 L95.3 76.41 L95.6 75.57 L95.8 76.23 L96.1 76.19 L96.3 76.65 L96.6 76.61 L96.8 76.50 L97.1 76.36 L97.4 76.71 L97.6 75.97 L97.9 76.58 L98.1 76.12 L98.4 77.07 L98.6 76.42 L98.9 76.35 L99.1 76.37 L99.4 76.26 L99.6 76.35 L99.9 76.38 L100.1 76.96 L100.4 76.63 L100.6 77.09 L100.9 76.25 L101.1 76.35 L101.4 76.49 L101.6 76.66 L101.9 76.60 L102.1 75.92 L102.4 75.95 L102.6 76.45 L102.9 76.08 L103.1 76.88 L103.4 76.98 L103.7 76.57 L103.9 76.69 L104.2 76.60 L104.4 76.39 L104.7 75.60 L104.9 76.63 L105.2 76.43 L105.4 76.37 L105.7 76.45 L105.9 76.18 L106.2 75.95 L106.4 76.79 L106.7 76.40 L106.9 76.52 L107.2 76.35 L107.4 76.88 L107.7 76.94 L107.9 77.10 L108.2 76.30 L108.4 76.40 L108.7 76.43 L108.9 77.11 L109.2 76.56 L109.4 76.66 L109.7 76.84 L110.0 76.69 L110.2 76.23 L110.5 76.26 L110.7 76.40 L111.0 76.23 L111.2 76.53 L111.5 76.32 L111.7 76.31 L112.0 76.14 L112.2 76.30 L112.5 76.30 L112.7 76.28 L113.0 76.40 L113.2 75.57 L113.5 76.03 L113.7 76.02 L114.0 75.47 L114.2 75.67 L114.5 76.45 L114.7 75.76 L115.0 75.66 L115.2 75.30 L115.5 75.40 L115.7 75.49 L116.0 75.97 L116.3 75.83 L116.5 75.44 L116.8 75.32 L117.0 75.68 L117.3 75.44 L117.5 75.38 L117.8 75.18 L118.0 75.02 L118.3 75.12 L118.5 75.29 L118.8 74.50 L119.0 74.31 L119.3 74.69 L119.5 74.28 L119.8 74.34 L120.0 74.18 L120.3 74.14 L120.5 74.39 L120.8 73.92 L121.0 73.70 L121.3 74.13 L121.5 73.24 L121.8 73.11 L122.0 73.09 L122.3 72.96 L122.6 73.23 L122.8 73.45 L123.1 73.44 L123.3 73.42 L123.6 73.08 L123.8 73.04 L124.1 72.76 L124.3 73.44 L124.6 72.15 L124.8 72.08 L125.1 72.66 L125.3 72.41 L125.6 72.44 L125.8 72.49 L126.1 72.65 L126.3 72.65 L126.6 72.89 L126.8 72.66 L127.1 72.76 L127.3 72.71 L127.6 73.09 L127.8 72.88 L128.1 72.92 L128.3 72.79 L128.6 73.28 L128.9 72.87 L129.1 72.71 L129.4 72.81 L129.6 73.06 L129.9 73.07 L130.1 72.98 L130.4 72.69 L130.6 72.44 L130.9 72.90 L131.1 73.01 L131.4 72.68 L131.6 72.68 L131.9 72.93 L132.1 72.80 L132.4 72.53 L132.6 72.22 L132.9 72.65 L133.1 72.50 L133.4 71.98 L133.6 72.37 L133.9 71.90 L134.1 71.73 L134.4 71.76 L134.6 71.92 L134.9 71.55 L135.2 71.52 L135.4 71.23 L135.7 71.45 L135.9 70.79 L136.2 71.45 L136.4 70.92 L136.7 70.75 L136.9 70.38 L137.2 70.71 L137.4 70.31 L137.7 70.57 L137.9 70.21 L138.2 70.00 L138.4 70.72 L138.7 70.65 L138.9 71.21 L139.2 70.86 L139.4 70.98 L139.7 71.50 L139.9 72.01 L140.2 71.76 L140.4 71.73 L140.7 71.92 L140.9 72.17 L141.2 73.07 L141.5 72.89 L141.7 72.43 L142.0 73.26 L142.2 72.67 L142.5 72.51 L142.7 72.87 L143.0 72.81 L143.2 73.25 L143.5 73.54 L143.7 73.26 L144.0 73.33 L144.2 73.32 L144.5 73.15 L144.7 73.42 L145.0 73.37 L145.2 73.34 L145.5 73.50 L145.7 73.02 L146.0 73.44 L146.2 73.57 L146.5 73.69 L146.7 73.83 L147.0 73.30 L147.2 73.66 L147.5 74.03 L147.8 73.91 L148.0 73.81 L148.3 73.92 L148.5 73.52 L148.8 74.17 L149.0 73.73 L149.3 73.85 L149.5 74.25 L149.8 73.95 L150.0 74.04 L150.3 73.96 L150.5 74.33 L150.8 74.26 L151.0 74.96 L151.3 74.95 L151.5 74.59 L151.8 74.67 L152.0 75.11 L152.3 75.41 L152.5 75.08 L152.8 76.10 L153.0 75.86 L153.3 75.57 L153.5 75.69 L153.8 76.25 L154.1 76.57 L154.3 75.69 L154.6 76.10 L154.8 76.44 L155.1 76.21 L155.3 76.01 L155.6 77.03 L155.8 76.03 L156.1 76.17 L156.3 76.99 L156.6 76.22 L156.8 76.96 L157.1 76.15 L157.3 76.37 L157.6 75.86 L157.8 76.66 L158.1 76.49 L158.3 76.19 L158.6 76.67 L158.8 76.69 L159.1 76.59 L159.3 76.51 L159.6 76.79 L159.8 76.35 L160.1 76.34 L160.4 76.47 L160.6 76.01 L160.9 76.58 L161.1 76.12 L161.4 76.64 L161.6 76.28 L161.9 77.03 L162.1 76.43 L162.4 76.54 L162.6 76.63 L162.9 76.66 L163.1 76.59 L163.4 76.69 L163.6 77.10 L163.9 76.66 L164.1 76.64 L164.4 76.64 L164.6 76.79 L164.9 76.53 L165.1 76.27 L165.4 76.56 L165.6 76.63 L165.9 76.11 L166.1 76.22 L166.4 76.23 L166.7 76.17 L166.9 76.58 L167.2 76.53 L167.4 76.18 L167.7 76.65 L167.9 76.52 L168.2 76.38 L168.4 76.39 L168.7 76.57 L168.9 76.21 L169.2 76.54 L169.4 76.29 L169.7 76.19 L169.9 76.31 L170.2 76.29 L170.4 76.82 L170.7 76.86 L170.9 76.66 L171.2 76.36 L171.4 76.07 L171.7 76.83 L171.9 76.41 L172.2 76.73 L172.4 76.70 L172.7 76.57 L173.0 76.30 L173.2 76.43 L173.5 76.16 L173.7 76.77 L174.0 76.24 L174.2 76.23 L174.5 76.47 L174.7 76.36 L175.0 76.65 L175.2 76.80 L175.5 76.60 L175.7 76.67 L176.0 75.68 L176.2 76.63 L176.5 76.03 L176.7 76.44 L177.0 76.40 L177.2 76.28 L177.5 76.71 L177.7 76.24 L178.0 76.39 L178.2 76.92 L178.5 76.32 L178.7 76.34 L179.0 76.37 L179.3 76.05 L179.5 76.61 L179.8 76.35 L180.0 76.28 L180.3 76.74 L180.5 76.16 L180.8 76.90 L181.0 76.86 L181.3 76.35 L181.5 76.80 L181.8 76.52 L182.0 76.95 L182.3 76.47 L182.5 76.81 L182.8 76.40 L183.0 76.92 L183.3 76.37 L183.5 76.57 L183.8 76.47 L184.0 76.51 L184.3 76.46 L184.5 76.86 L184.8 77.21 L185.0 76.48 L185.3 76.75 L185.6 76.62 L185.8 76.37 L186.1 77.05 L186.3 76.71 L186.6 76.66 L186.8 76.79 L187.1 76.40 L187.3 76.53 L187.6 76.72 L187.8 76.77 L188.1 76.27 L188.3 76.68 L188.6 76.33 L188.8 76.37 L189.1 77.02 L189.3 76.80 L189.6 76.49 L189.8 76.40 L190.1 76.27 L190.3 76.27 L190.6 76.20 L190.8 76.60 L191.1 76.55 L191.3 76.28 L191.6 76.61 L191.9 76.20 L192.1 76.94 L192.4 76.31 L192.6 76.54 L192.9 77.04 L193.1 76.22 L193.4 76.41 L193.6 76.49 L193.9 76.80 L194.1 76.62 L194.4 76.07 L194.6 76.73 L194.9 77.47 L195.1 76.73 L195.4 76.83 L195.6 76.53 L195.9 76.60 L196.1 76.75 L196.4 76.73 L196.6 76.20 L196.9 76.90 L197.1 75.95 L197.4 76.65 L197.6 76.80 L197.9 76.27 L198.2 76.34" stroke="#ff22ff"/><path d="M18.5 100.03 L18.7 99.53 L19.0 100.26 L19.2 100.00 L19.5 99.42 L19.7 99.81 L20.0 100.10 L20.2 99.59 L20.5 99.48 L20.7 99.74 L21.0 100.24 L21.2 99.83 L21.5 99.62 L21.8 99.52 L22.0 99.21 L22.3 99.80 L22.5 99.86 L22.8 99.74 L23.0 99.39 L23.3 99.99 L23.5 99.36 L23.8 100.49 L24.0 99.50 L24.3 99.91 L24.5 99.59 L24.8 99.53 L25.0 100.05 L25.3 99.74 L25.5 99.65 L25.8 99.55 L26.0 99.98 L26.3 99.99 L26.5 100.25 L26.8 99.00 L27.0 99.76 L27.3 99.77 L27.5 100.13 L27.8 99.45 L28.1 99.85 L28.3 99.30 L28.6 99.46 L28.8 99.69 L29.1 99.49 L29.3 100.01 L29.6 99.79 L29.8 99.85 L30.1 100.05 L30.3 99.69 L30.6 99.73 L30.8 99.28 L31.1 100.62 L31.3 99.87 L31.6 99.94 L31.8 99.81 L32.1 99.56 L32.3 99.56 L32.6 99.66 L32.8 99.80 L33.1 99.53 L33.3 99.56 L33.6 100.18 L33.8 99.73 L34.1 100.04 L34.4 99.98 L34.6 99.61 L34.9 99.63 L35.1 99.61 L35.4 99.89 L35.6 99.70 L35.9 99.89 L36.1 99.53 L36.4 99.44 L36.6 99.13 L36.9 99.27 L37.1 99.84 L37.4 99.74 L37.6 99.87 L37.9 99.52 L38.1 99.05 L38.4 99.40 L38.6 100.21 L38.9 99.94 L39.1 99.94 L39.4 99.43 L39.6 99.57 L39.9 99.48 L40.1 99.06 L40.4 99.78 L40.7 99.78 L40.9 98.99 L41.2 99.44 L41.4 99.74 L41.7 100.09 L41.9 99.94 L42.2 100.19 L42.4 99.48 L42.7 99.47 L42.9 99.20 L43.2 99.51 L43.4 99.65 L43.7 99.65 L43.9 98.90 L44.2 99.92 L44.4 99.36 L44.7 99.39 L44.9 99.21 L45.2 99.48 L45.4 99.21 L45.7 99.11 L45.9 99.36 L46.2 99.43 L46.4 99.33 L46.7 99.53 L47.0 99.30 L47.2 99.30 L47.5 99.13 L47.7 98.79 L48.0 98.77 L48.2 99.23 L48.5 98.91 L48.7 98.96 L49.0 98.79 L49.2 98.96 L49.5 98.85 L49.7 99.01 L50.0 99.05 L50.2 98.53 L50.5 98.35 L50.7 98.46 L51.0 98.45 L51.2 98.42 L51.5 98.53 L51.7 98.80 L52.0 98.00 L52.2 98.00 L52.5 98.06 L52.7 98.01 L53.0 97.18 L53.3 97.80 L53.5 96.52 L53.8 96.50 L54.0 95.62 L54.3 96.01 L54.5 95.25 L54.8 94.73 L55.0 93.78 L55.3 92.99 L55.5 92.13 L55.8 90.48 L56.0 89.73 L56.3 88.27 L56.5 86.52 L56.8 85.32 L57.0 83.82 L57.3 82.26 L57.5 81.35 L57.8 80.83 L58.0 80.19 L58.3 80.25 L58.5 79.97 L58.8 81.22 L59.0 81.28 L59.3 82.54 L59.6 83.26 L59.8 84.14 L60.1 84.87 L60.3 85.58 L60.6 86.17 L60.8 87.63 L61.1 87.81 L61.3 88.57 L61.6 89.23 L61.8 90.21 L62.1 90.22 L62.3 90.91 L62.6 91.14 L62.8 91.62 L63.1 91.63 L63.3 91.72 L63.6 91.91 L63.8 92.44 L64.1 92.23 L64.3 92.20 L64.6 92.95 L64.8 92.34 L65.1 93.16 L65.3 92.65 L65.6 92.62 L65.9 92.32 L66.1 92.57 L66.4 92.64 L66.6 92.53 L66.9 92.39 L67.1 91.47 L67.4 91.30 L67.6 90.89 L67.9 89.87 L68.1 89.45 L68.4 88.45 L68.6 87.43 L68.9 85.72 L69.1 84.60 L69.4 83.85 L69.6 83.11 L69.9 81.61 L70.1 80.95 L70.4 80.52 L70.6 80.65 L70.9 82.50 L71.1 84.75 L71.4 87.59 L71.6 90.32 L71.9 92.61 L72.2 94.27 L72.4 95.16 L72.7 96.55 L72.9 96.92 L73.2 97.55 L73.4 98.07 L73.7 97.78 L73.9 98.16 L74.2 98.32 L74.4 98.22 L74.7 99.01 L74.9 98.71 L75.2 98.70 L75.4 98.62 L75.7 99.23 L75.9 98.78 L76.2 98.97 L76.4 98.70 L76.7 98.80 L76.9 99.00 L77.2 98.59 L77.4 99.22 L77.7 99.37 L77.9 99.37 L78.2 99.56 L78.5 99.33 L78.7 99.86 L79.0 99.38 L79.2 99.25 L79.5 99.11 L79.7 99.50 L80.0 99.03 L80.2 99.61 L80.5 99.48 L80.7 99.98 L81.0 99.68 L81.2 99.70 L81.5 99.08 L81.7 99.35 L82.0 99.80 L82.2 99.37 L82.5 99.39 L82.7 99.59 L83.0 99.53 L83.2 99.62 L83.5 99.70 L83.7 100.04 L84.0 99.58 L84.2 99.21 L84.5 99.18 L84.8 99.65 L85.0 99.79 L85.3 99.64 L85.5 99.35 L85.8 99.50 L86.0 99.76 L86.3 99.51 L86.5 99.67 L86.8 99.47 L87.0 99.73 L87.3 100.02 L87.5 99.61 L87.8 99.42 L88.0 99.93 L88.3 99.66 L88.5 99.40 L88.8 99.74 L89.0 99.82 L89.3 99.09 L89.5 99.42 L89.8 99.37 L90.0 99.91 L90.3 99.21 L90.5 100.11 L90.8 99.80 L91.1 99.46 L91.3 99.30 L91.6 99.92 L91.8 99.85 L92.1 99.62 L92.3 100.20 L92.6 99.50 L92.8 99.53 L93.1 99.80 L93.3 99.54 L93.6 99.47 L93.8 99.60 L94.1 99.55 L94.3 99.28 L94.6 99.82 L94.8 99.65 L95.1 99.84 L95.3 99.42 L95.6 99.81 L95.8 99.57 L96.1 99.66 L96.3 99.69 L96.6 99.24 L96.8 99.73 L97.1 99.32 L97.4 99.48 L97.6 99.35 L97.9 99.76 L98.1 99.46 L98.4 99.51 L98.6 99.88 L98.9 99.64 L99.1 99.75 L99.4 99.73 L99.6 99.37 L99.9 99.92 L100.1 100.18 L100.4 100.19 L100.6 99.85 L100.9 99.90 L101.1 99.72 L101.4 99.57 L101.6 99.25 L101.9 99.64 L102.1 99.60 L102.4 99.93 L102.6 99.57 L102.9 99.36 L103.1 99.37 L103.4 100.26 L103.7 99.49 L103.9 99.31 L104.2 99.51 L104.4 100.14 L104.7 99.82 L104.9 99.58 L105.2 99.63 L105.4 99.96 L105.7 99.98 L105.9 99.48 L106.2 100.10 L106.4 99.35 L106.7 99.74 L106.9 99.66 L107.2 100.10 L107.4 99.90 L107.7 99.56 L107.9 100.14 L108.2 99.19 L108.4 100.12 L108.7 100.08 L108.9 99.74 L109.2 99.62 L109.4 99.55 L109.7 99.84 L110.0 99.79 L110.2 99.78 L110.5 99.86 L110.7 100.38 L111.0 99.40 L111.2 99.57 L111.5 99.57 L111.7 99.76 L112.0 99.51 L112.2 99.56 L112.5 99.55 L112.7 99.21 L113.0 99.95 L113.2 99.39 L113.5 99.72 L113.7 99.49 L114.0 98.96 L114.2 99.60 L114.5 99.28 L114.7 99.34 L115.0 98.86 L115.2 99.31 L115.5 99.43 L115.7 98.77 L116.0 98.93 L116.3 98.85 L116.5 98.41 L116.8 98.87 L117.0 98.66 L117.3 98.45 L117.5 98.30 L117.8 98.47 L118.0 97.97 L118.3 97.55 L118.5 98.16 L118.8 97.44 L119.0 98.41 L119.3 97.35 L119.5 97.71 L119.8 97.48 L120.0 97.49 L120.3 97.46 L120.5 97.53 L120.8 97.18 L121.0 96.62 L121.3 96.55 L121.5 96.84 L121.8 96.79 L122.0 96.73 L122.3 96.77 L122.6 95.87 L122.8 96.08 L123.1 96.14 L123.3 96.21 L123.6 96.26 L123.8 95.55 L124.1 95.60 L124.3 95.98 L124.6 95.37 L124.8 95.85 L125.1 95.30 L125.3 95.67 L125.6 95.49 L125.8 95.24 L126.1 95.28 L126.3 95.16 L126.6 95.71 L126.8 95.11 L127.1 95.23 L127.3 95.64 L127.6 95.57 L127.8 95.95 L128.1 95.83 L128.3 96.18 L128.6 95.82 L128.9 95.80 L129.1 95.49 L129.4 95.58 L129.6 95.59 L129.9 95.89 L130.1 95.83 L130.4 95.84 L130.6 95.66 L130.9 96.22 L131.1 95.46 L131.4 96.05 L131.6 95.71 L131.9 95.49 L132.1 95.55 L132.4 94.87 L132.6 95.24 L132.9 94.68 L133.1 94.68 L133.4 95.03 L133.6 94.68 L133.9 94.33 L134.1 94.67 L134.4 94.45 L134.6 94.51 L134.9 94.24 L135.2 94.23 L135.4 94.00 L135.7 93.63 L135.9 93.40 L136.2 93.62 L136.4 93.47 L136.7 93.17 L136.9 93.36 L137.2 93.45 L137.4 92.78 L137.7 93.27 L137.9 92.77 L138.2 93.33 L138.4 92.69 L138.7 93.61 L138.9 93.27 L139.2 93.27 L139.4 94.11 L139.7 93.63 L139.9 94.42 L140.2 94.84 L140.4 94.34 L140.7 94.52 L140.9 94.92 L141.2 95.70 L141.5 95.18 L141.7 95.37 L142.0 95.48 L142.2 95.53 L142.5 95.99 L142.7 95.72 L143.0 95.13 L143.2 95.24 L143.5 95.80 L143.7 95.94 L144.0 95.69 L144.2 95.56 L144.5 95.70 L144.7 96.25 L145.0 95.94 L145.2 95.99 L145.5 95.69 L145.7 95.80 L146.0 96.02 L146.2 95.88 L146.5 96.35 L146.7 95.86 L147.0 96.42 L147.2 96.23 L147.5 96.12 L147.8 96.64 L148.0 96.61 L148.3 96.92 L148.5 96.44 L148.8 96.52 L149.0 96.63 L149.3 96.44 L149.5 97.18 L149.8 96.66 L150.0 96.70 L150.3 96.89 L150.5 96.75 L150.8 96.65 L151.0 97.43 L151.3 97.76 L151.5 97.86 L151.8 97.87 L152.0 97.91 L152.3 98.48 L152.5 98.14 L152.8 98.85 L153.0 98.51 L153.3 98.77 L153.5 98.90 L153.8 98.56 L154.1 99.30 L154.3 99.35 L154.6 99.23 L154.8 99.18 L155.1 99.82 L155.3 99.43 L155.6 99.75 L155.8 99.43 L156.1 99.28 L156.3 99.67 L156.6 99.75 L156.8 99.70 L157.1 100.56 L157.3 99.57 L157.6 99.63 L157.8 99.74 L158.1 99.89 L158.3 99.98 L158.6 99.84 L158.8 99.46 L159.1 99.81 L159.3 99.43 L159.6 100.48 L159.8 99.91 L160.1 99.71 L160.4 99.79 L160.6 100.23 L160.9 99.97 L161.1 99.45 L161.4 100.14 L161.6 100.05 L161.9 100.08 L162.1 99.94 L162.4 99.62 L162.6 99.63 L162.9 100.33 L163.1 99.40 L163.4 99.95 L163.6 99.95 L163.9 99.34 L164.1 99.81 L164.4 100.12 L164.6 99.96 L164.9 99.98 L165.1 100.06 L165.4 99.88 L165.6 99.55 L165.9 99.69 L166.1 100.16 L166.4 99.04 L166.7 100.06 L166.9 99.76 L167.2 99.78 L167.4 99.58 L167.7 99.88 L167.9 99.67 L168.2 99.22 L168.4 99.76 L168.7 100.08 L168.9 99.70 L169.2 100.01 L169.4 99.89 L169.7 99.74 L169.9 99.70 L170.2 99.87 L170.4 99.56 L170.7 99.84 L170.9 100.14 L171.2 99.55 L171.4 99.89 L171.7 99.46 L171.9 99.97 L172.2 99.64 L172.4 99.71 L172.7 100.52 L173.0 100.19 L173.2 100.09 L173.5 99.41 L173.7 100.30 L174.0 99.54 L174.2 99.50 L174.5 99.66 L174.7 99.61 L175.0 99.92 L175.2 99.79 L175.5 99.73 L175.7 99.68 L176.0 99.60 L176.2 99.85 L176.5 99.98 L176.7 99.94 L177.0 99.68 L177.2 100.24 L177.5 100.13 L177.7 99.90 L178.0 99.94 L178.2 99.86 L178.5 100.51 L178.7 99.88 L179.0 99.86 L179.3 99.58 L179.5 100.32 L179.8 99.87 L180.0 99.66 L180.3 99.66 L180.5 99.47 L180.8 99.51 L181.0 100.07 L181.3 99.62 L181.5 99.88 L181.8 100.01 L182.0 99.38 L182.3 99.96 L182.5 100.02 L182.8 99.90 L183.0 100.02 L183.3 99.52 L183.5 99.69 L183.8 99.41 L184.0 99.68 L184.3 99.96 L184.5 99.51 L184.8 99.97 L185.0 99.92 L185.3 99.84 L185.6 99.78 L185.8 99.47 L186.1 99.96 L186.3 99.70 L186.6 99.80 L186.8 100.13 L187.1 100.09 L187.3 99.85 L187.6 99.68 L187.8 99.71 L188.1 99.66 L188.3 99.78 L188.6 99.91 L188.8 99.68 L189.1 100.06 L189.3 100.15 L189.6 99.88 L189.8 100.18 L190.1 99.93 L190.3 99.99 L190.6 99.94 L190.8 99.80 L191.1 100.01 L191.3 99.91 L191.6 100.25 L191.9 99.75 L192.1 100.03 L192.4 99.68 L192.6 100.56 L192.9 100.01 L193.1 99.73 L193.4 100.45 L193.6 99.89 L193.9 99.77 L194.1 99.77 L194.4 100.20 L194.6 99.73 L194.9 99.75 L195.1 100.06 L195.4 99.59 L195.6 99.81 L195.9 99.79 L196.1 99.91 L196.4 99.65 L196.6 99.77 L196.9 99.49 L197.1 99.67 L197.4 99.96 L197.6 99.85 L197.9 99.55 L198.2 99.89" stroke="#3a3aff"/><path d="M18.5 121.34 L18.7 121.30 L19.0 121.49 L19.2 122.07 L19.5 121.41 L19.7 121.39 L20.0 121.41 L20.2 121.65 L20.5 121.11 L20.7 121.48 L21.0 121.61 L21.2 121.63 L21.5 121.34 L21.8 121.73 L22.0 121.71 L22.3 120.89 L22.5 121.08 L22.8 121.15 L23.0 121.06 L23.3 121.27 L23.5 121.89 L23.8 121.11 L24.0 121.09 L24.3 121.30 L24.5 121.96 L24.8 121.09 L25.0 121.06 L25.3 121.56 L25.5 121.39 L25.8 121.21 L26.0 121.44 L26.3 121.12 L26.5 121.40 L26.8 121.23 L27.0 121.39 L27.3 121.82 L27.5 121.68 L27.8 120.55 L28.1 121.34 L28.3 121.05 L28.6 121.10 L28.8 120.94 L29.1 121.26 L29.3 121.57 L29.6 121.40 L29.8 121.92 L30.1 121.45 L30.3 121.15 L30.6 121.98 L30.8 121.34 L31.1 121.17 L31.3 121.03 L31.6 121.64 L31.8 121.56 L32.1 121.90 L32.3 121.66 L32.6 121.24 L32.8 120.82 L33.1 121.69 L33.3 121.00 L33.6 121.26 L33.8 121.51 L34.1 120.77 L34.4 122.05 L34.6 121.38 L34.9 121.30 L35.1 120.78 L35.4 120.87 L35.6 120.74 L35.9 121.31 L36.1 121.08 L36.4 120.97 L36.6 121.20 L36.9 121.24 L37.1 121.38 L37.4 121.44 L37.6 121.66 L37.9 120.79 L38.1 121.44 L38.4 121.88 L38.6 121.24 L38.9 121.31 L39.1 121.25 L39.4 120.80 L39.6 121.32 L39.9 121.36 L40.1 121.48 L40.4 121.28 L40.7 121.39 L40.9 121.21 L41.2 120.41 L41.4 121.14 L41.7 121.48 L41.9 120.71 L42.2 120.99 L42.4 121.00 L42.7 121.02 L42.9 120.98 L43.2 121.01 L43.4 120.80 L43.7 120.90 L43.9 120.80 L44.2 121.29 L44.4 121.14 L44.7 121.33 L44.9 120.86 L45.2 120.88 L45.4 121.22 L45.7 120.92 L45.9 120.35 L46.2 120.71 L46.4 121.33 L46.7 121.03 L47.0 120.82 L47.2 120.98 L47.5 120.84 L47.7 120.60 L48.0 120.81 L48.2 121.17 L48.5 120.65 L48.7 120.84 L49.0 120.75 L49.2 120.90 L49.5 121.08 L49.7 121.00 L50.0 120.71 L50.2 120.86 L50.5 121.25 L50.7 120.14 L51.0 120.70 L51.2 120.51 L51.5 120.09 L51.7 120.80 L52.0 119.67 L52.2 120.13 L52.5 119.61 L52.7 119.76 L53.0 119.37 L53.3 119.21 L53.5 118.98 L53.8 119.18 L54.0 118.72 L54.3 117.90 L54.5 117.00 L54.8 116.94 L55.0 115.96 L55.3 115.26 L55.5 114.26 L55.8 113.09 L56.0 112.63 L56.3 110.90 L56.5 109.71 L56.8 108.39 L57.0 107.22 L57.3 105.98 L57.5 105.05 L57.8 104.37 L58.0 103.09 L58.3 103.32 L58.5 104.01 L58.8 104.22 L59.0 105.25 L59.3 106.42 L59.6 106.90 L59.8 107.15 L60.1 107.59 L60.3 108.77 L60.6 109.77 L60.8 110.25 L61.1 111.10 L61.3 111.79 L61.6 112.00 L61.8 112.51 L62.1 113.04 L62.3 113.41 L62.6 113.73 L62.8 113.68 L63.1 113.59 L63.3 114.21 L63.6 113.70 L63.8 114.88 L64.1 114.47 L64.3 114.94 L64.6 114.74 L64.8 114.71 L65.1 114.61 L65.3 114.46 L65.6 114.90 L65.9 115.03 L66.1 114.65 L66.4 114.38 L66.6 114.45 L66.9 113.75 L67.1 113.19 L67.4 113.60 L67.6 112.58 L67.9 111.75 L68.1 111.79 L68.4 110.33 L68.6 109.45 L68.9 108.69 L69.1 106.79 L69.4 105.93 L69.6 105.01 L69.9 103.81 L70.1 103.06 L70.4 102.68 L70.6 102.92 L70.9 104.52 L71.1 107.48 L71.4 110.01 L71.6 112.34 L71.9 115.19 L72.2 115.44 L72.4 117.32 L72.7 118.36 L72.9 119.19 L73.2 119.07 L73.4 119.46 L73.7 119.89 L73.9 120.05 L74.2 120.34 L74.4 120.44 L74.7 120.38 L74.9 120.62 L75.2 120.35 L75.4 120.65 L75.7 120.64 L75.9 120.62 L76.2 120.43 L76.4 120.66 L76.7 120.80 L76.9 120.94 L77.2 121.15 L77.4 121.05 L77.7 120.80 L77.9 120.95 L78.2 121.14 L78.5 121.41 L78.7 121.49 L79.0 121.00 L79.2 120.82 L79.5 121.02 L79.7 121.51 L80.0 121.20 L80.2 121.10 L80.5 121.42 L80.7 121.08 L81.0 121.24 L81.2 121.43 L81.5 121.55 L81.7 121.00 L82.0 121.13 L82.2 121.48 L82.5 121.52 L82.7 121.00 L83.0 121.09 L83.2 121.34 L83.5 120.83 L83.7 121.35 L84.0 121.57 L84.2 120.99 L84.5 121.34 L84.8 121.20 L85.0 121.29 L85.3 121.58 L85.5 121.63 L85.8 121.37 L86.0 120.93 L86.3 121.59 L86.5 120.95 L86.8 121.27 L87.0 121.64 L87.3 121.26 L87.5 121.18 L87.8 121.59 L88.0 121.93 L88.3 121.25 L88.5 121.65 L88.8 121.23 L89.0 121.88 L89.3 121.40 L89.5 121.58 L89.8 121.77 L90.0 121.43 L90.3 121.32 L90.5 121.52 L90.8 121.70 L91.1 121.32 L91.3 121.86 L91.6 121.24 L91.8 121.25 L92.1 120.93 L92.3 121.15 L92.6 121.29 L92.8 121.32 L93.1 121.38 L93.3 121.75 L93.6 121.00 L93.8 121.25 L94.1 121.48 L94.3 121.71 L94.6 121.00 L94.8 121.26 L95.1 121.73 L95.3 121.22 L95.6 120.89 L95.8 121.42 L96.1 121.30 L96.3 121.52 L96.6 121.58 L96.8 121.12 L97.1 120.58 L97.4 121.38 L97.6 121.45 L97.9 121.20 L98.1 121.50 L98.4 121.22 L98.6 121.20 L98.9 121.70 L99.1 121.72 L99.4 121.45 L99.6 121.20 L99.9 121.35 L100.1 121.09 L100.4 121.80 L100.6 121.30 L100.9 121.60 L101.1 121.40 L101.4 121.35 L101.6 121.70 L101.9 121.50 L102.1 121.75 L102.4 121.36 L102.6 121.67 L102.9 121.57 L103.1 121.38 L103.4 121.62 L103.7 121.13 L103.9 121.61 L104.2 121.21 L104.4 121.36 L104.7 121.72 L104.9 121.50 L105.2 121.67 L105.4 121.54 L105.7 121.52 L105.9 120.95 L106.2 121.56 L106.4 121.02 L106.7 121.33 L106.9 121.80 L107.2 122.08 L107.4 121.26 L107.7 121.99 L107.9 121.26 L108.2 121.17 L108.4 121.35 L108.7 121.51 L108.9 121.52 L109.2 121.38 L109.4 121.53 L109.7 121.59 L110.0 121.54 L110.2 121.10 L110.5 121.57 L110.7 121.28 L111.0 121.67 L111.2 121.52 L111.5 121.68 L111.7 121.34 L112.0 121.07 L112.2 121.15 L112.5 121.34 L112.7 121.02 L113.0 121.25 L113.2 121.03 L113.5 121.03 L113.7 120.92 L114.0 121.69 L114.2 121.32 L114.5 120.69 L114.7 120.85 L115.0 120.14 L115.2 120.74 L115.5 120.74 L115.7 120.11 L116.0 120.29 L116.3 119.85 L116.5 120.14 L116.8 120.26 L117.0 119.93 L117.3 120.26 L117.5 120.09 L117.8 120.03 L118.0 119.84 L118.3 119.47 L118.5 119.70 L118.8 119.36 L119.0 119.46 L119.3 118.97 L119.5 119.83 L119.8 119.02 L120.0 118.80 L120.3 119.01 L120.5 118.33 L120.8 118.42 L121.0 118.01 L121.3 117.98 L121.5 117.94 L121.8 118.04 L122.0 118.18 L122.3 117.84 L122.6 117.80 L122.8 117.50 L123.1 117.60 L123.3 116.54 L123.6 117.70 L123.8 116.85 L124.1 117.20 L124.3 117.04 L124.6 116.62 L124.8 116.78 L125.1 117.03 L125.3 116.52 L125.6 116.65 L125.8 117.15 L126.1 116.56 L126.3 116.94 L126.6 116.91 L126.8 116.64 L127.1 116.74 L127.3 116.96 L127.6 116.35 L127.8 116.88 L128.1 117.21 L128.3 117.02 L128.6 117.14 L128.9 117.72 L129.1 117.54 L129.4 117.47 L129.6 116.52 L129.9 117.10 L130.1 117.10 L130.4 117.15 L130.6 116.71 L130.9 116.94 L131.1 116.45 L131.4 116.64 L131.6 116.34 L131.9 116.72 L132.1 116.47 L132.4 116.56 L132.6 116.35 L132.9 116.62 L133.1 116.17 L133.4 116.13 L133.6 115.90 L133.9 115.25 L134.1 115.37 L134.4 114.96 L134.6 114.91 L134.9 114.74 L135.2 114.56 L135.4 114.83 L135.7 114.28 L135.9 114.41 L136.2 114.28 L136.4 113.64 L136.7 113.20 L136.9 113.87 L137.2 112.98 L137.4 113.10 L137.7 113.49 L137.9 113.22 L138.2 113.32 L138.4 113.55 L138.7 114.04 L138.9 114.61 L139.2 114.59 L139.4 114.71 L139.7 115.06 L139.9 115.42 L140.2 115.62 L140.4 116.50 L140.7 116.55 L140.9 116.75 L141.2 116.86 L141.5 117.33 L141.7 117.44 L142.0 117.69 L142.2 117.26 L142.5 118.48 L142.7 117.95 L143.0 117.32 L143.2 117.96 L143.5 118.56 L143.7 118.07 L144.0 118.53 L144.2 118.37 L144.5 118.16 L144.7 117.80 L145.0 118.17 L145.2 118.16 L145.5 118.10 L145.7 118.36 L146.0 118.68 L146.2 118.51 L146.5 118.42 L146.7 118.62 L147.0 118.75 L147.2 118.69 L147.5 119.02 L147.8 118.92 L148.0 118.69 L148.3 118.79 L148.5 118.70 L148.8 118.36 L149.0 118.68 L149.3 118.80 L149.5 119.14 L149.8 119.15 L150.0 118.82 L150.3 119.24 L150.5 119.00 L150.8 119.54 L151.0 119.38 L151.3 119.60 L151.5 119.47 L151.8 120.00 L152.0 120.15 L152.3 120.13 L152.5 120.32 L152.8 120.02 L153.0 120.67 L153.3 120.88 L153.5 120.93 L153.8 120.82 L154.1 120.96 L154.3 120.90 L154.6 121.50 L154.8 120.51 L155.1 120.72 L155.3 121.26 L155.6 121.62 L155.8 121.29 L156.1 121.26 L156.3 122.01 L156.6 121.43 L156.8 121.86 L157.1 121.35 L157.3 121.11 L157.6 121.21 L157.8 121.89 L158.1 121.12 L158.3 121.24 L158.6 121.59 L158.8 121.35 L159.1 121.08 L159.3 121.58 L159.6 121.49 L159.8 121.64 L160.1 121.18 L160.4 122.07 L160.6 121.11 L160.9 121.75 L161.1 121.24 L161.4 121.93 L161.6 121.74 L161.9 121.65 L162.1 121.27 L162.4 121.93 L162.6 121.33 L162.9 121.66 L163.1 121.15 L163.4 121.57 L163.6 121.36 L163.9 121.54 L164.1 121.01 L164.4 121.59 L164.6 121.50 L164.9 120.96 L165.1 121.47 L165.4 121.30 L165.6 121.69 L165.9 121.44 L166.1 122.10 L166.4 121.46 L166.7 121.66 L166.9 121.89 L167.2 121.87 L167.4 121.18 L167.7 121.38 L167.9 121.90 L168.2 121.00 L168.4 121.68 L168.7 121.59 L168.9 121.42 L169.2 121.80 L169.4 121.93 L169.7 121.69 L169.9 121.17 L170.2 121.23 L170.4 121.92 L170.7 121.17 L170.9 121.48 L171.2 121.36 L171.4 121.48 L171.7 121.38 L171.9 121.76 L172.2 121.74 L172.4 121.68 L172.7 121.59 L173.0 121.32 L173.2 121.82 L173.5 121.06 L173.7 121.66 L174.0 121.65 L174.2 121.30 L174.5 121.37 L174.7 121.58 L175.0 121.78 L175.2 121.76 L175.5 121.92 L175.7 121.18 L176.0 121.20 L176.2 120.99 L176.5 121.36 L176.7 121.40 L177.0 121.29 L177.2 121.24 L177.5 121.56 L177.7 121.40 L178.0 120.91 L178.2 121.95 L178.5 121.87 L178.7 121.75 L179.0 121.29 L179.3 121.17 L179.5 121.58 L179.8 121.31 L180.0 121.51 L180.3 121.41 L180.5 121.64 L180.8 121.50 L181.0 121.49 L181.3 121.19 L181.5 120.89 L181.8 121.98 L182.0 121.35 L182.3 121.49 L182.5 121.23 L182.8 121.21 L183.0 121.28 L183.3 121.27 L183.5 121.75 L183.8 121.95 L184.0 121.04 L184.3 121.17 L184.5 121.75 L184.8 121.14 L185.0 121.31 L185.3 122.15 L185.6 121.25 L185.8 121.76 L186.1 121.18 L186.3 121.68 L186.6 121.69 L186.8 121.91 L187.1 121.55 L187.3 121.22 L187.6 121.67 L187.8 121.99 L188.1 120.91 L188.3 121.00 L188.6 121.31 L188.8 121.64 L189.1 121.82 L189.3 121.94 L189.6 121.34 L189.8 121.14 L190.1 121.78 L190.3 121.49 L190.6 121.57 L190.8 121.56 L191.1 121.36 L191.3 120.93 L191.6 121.67 L191.9 121.26 L192.1 121.20 L192.4 121.57 L192.6 121.53 L192.9 121.86 L193.1 121.20 L193.4 121.64 L193.6 121.67 L193.9 121.48 L194.1 121.73 L194.4 121.78 L194.6 121.57 L194.9 121.09 L195.1 121.55 L195.4 121.35 L195.6 121.89 L195.9 122.02 L196.1 121.00 L196.4 121.60 L196.6 121.91 L196.9 121.52 L197.1 121.33 L197.4 121.96 L197.6 121.73 L197.9 121.42 L198.2 121.74" stroke="#ff1a1a" stroke-width="1.6"/><path d="M18.5 145.13 L18.7 145.08 L19.0 145.22 L19.2 145.46 L19.5 145.35 L19.7 145.51 L20.0 145.38 L20.2 145.25 L20.5 145.42 L20.7 145.08 L21.0 144.64 L21.2 145.48 L21.5 145.24 L21.8 145.11 L22.0 145.16 L22.3 145.40 L22.5 145.46 L22.8 145.06 L23.0 145.16 L23.3 145.19 L23.5 145.55 L23.8 145.16 L24.0 145.11 L24.3 145.38 L24.5 145.15 L24.8 144.74 L25.0 145.83 L25.3 145.16 L25.5 145.64 L25.8 145.69 L26.0 145.38 L26.3 145.17 L26.5 145.30 L26.8 145.63 L27.0 145.70 L27.3 145.46 L27.5 145.31 L27.8 145.53 L28.1 145.72 L28.3 144.83 L28.6 145.53 L28.8 145.35 L29.1 145.45 L29.3 145.46 L29.6 145.29 L29.8 145.38 L30.1 145.13 L30.3 145.62 L30.6 145.70 L30.8 144.76 L31.1 145.31 L31.3 145.08 L31.6 144.97 L31.8 145.13 L32.1 145.27 L32.3 145.70 L32.6 145.71 L32.8 145.01 L33.1 145.09 L33.3 145.12 L33.6 145.72 L33.8 145.84 L34.1 145.55 L34.4 145.58 L34.6 145.21 L34.9 145.53 L35.1 144.82 L35.4 145.42 L35.6 145.40 L35.9 145.01 L36.1 145.15 L36.4 145.48 L36.6 145.01 L36.9 144.71 L37.1 145.56 L37.4 145.29 L37.6 145.51 L37.9 145.74 L38.1 145.04 L38.4 145.02 L38.6 144.94 L38.9 145.08 L39.1 145.74 L39.4 145.19 L39.6 145.36 L39.9 145.49 L40.1 145.47 L40.4 144.96 L40.7 145.24 L40.9 144.62 L41.2 145.02 L41.4 145.66 L41.7 144.89 L41.9 144.78 L42.2 145.11 L42.4 145.44 L42.7 144.62 L42.9 145.45 L43.2 145.10 L43.4 145.59 L43.7 145.40 L43.9 145.51 L44.2 144.74 L44.4 144.71 L44.7 145.12 L44.9 145.37 L45.2 145.00 L45.4 144.87 L45.7 145.37 L45.9 145.26 L46.2 144.95 L46.4 144.71 L46.7 144.86 L47.0 144.74 L47.2 145.18 L47.5 145.50 L47.7 144.71 L48.0 145.02 L48.2 144.77 L48.5 144.81 L48.7 144.54 L49.0 144.85 L49.2 144.21 L49.5 144.55 L49.7 144.37 L50.0 144.29 L50.2 144.13 L50.5 144.25 L50.7 144.77 L51.0 144.40 L51.2 143.64 L51.5 143.93 L51.7 143.81 L52.0 143.73 L52.2 143.91 L52.5 143.77 L52.7 143.60 L53.0 142.91 L53.3 142.90 L53.5 142.25 L53.8 142.28 L54.0 141.51 L54.3 141.46 L54.5 141.37 L54.8 139.94 L55.0 139.59 L55.3 138.51 L55.5 137.80 L55.8 136.86 L56.0 135.51 L56.3 134.55 L56.5 133.17 L56.8 131.66 L57.0 130.15 L57.3 129.10 L57.5 127.69 L57.8 126.86 L58.0 126.08 L58.3 126.16 L58.5 126.93 L58.8 127.13 L59.0 128.05 L59.3 128.62 L59.6 129.55 L59.8 130.55 L60.1 131.25 L60.3 132.52 L60.6 132.81 L60.8 133.77 L61.1 134.70 L61.3 135.15 L61.6 135.48 L61.8 136.34 L62.1 136.49 L62.3 136.87 L62.6 136.95 L62.8 137.98 L63.1 137.97 L63.3 138.01 L63.6 137.92 L63.8 138.42 L64.1 138.41 L64.3 139.12 L64.6 138.95 L64.8 138.39 L65.1 138.96 L65.3 138.29 L65.6 139.07 L65.9 138.90 L66.1 139.17 L66.4 138.41 L66.6 138.31 L66.9 137.56 L67.1 137.73 L67.4 137.40 L67.6 137.18 L67.9 136.17 L68.1 135.12 L68.4 134.30 L68.6 133.17 L68.9 132.19 L69.1 131.30 L69.4 129.96 L69.6 128.98 L69.9 128.44 L70.1 126.91 L70.4 126.93 L70.6 127.50 L70.9 128.64 L71.1 131.15 L71.4 133.66 L71.6 135.98 L71.9 139.25 L72.2 139.83 L72.4 140.73 L72.7 142.26 L72.9 143.12 L73.2 142.97 L73.4 143.28 L73.7 143.53 L73.9 144.14 L74.2 144.12 L74.4 144.07 L74.7 144.03 L74.9 143.73 L75.2 144.34 L75.4 144.66 L75.7 145.21 L75.9 144.32 L76.2 144.70 L76.4 144.74 L76.7 145.02 L76.9 144.58 L77.2 145.31 L77.4 144.81 L77.7 144.84 L77.9 144.81 L78.2 144.56 L78.5 144.97 L78.7 144.93 L79.0 144.74 L79.2 145.42 L79.5 145.09 L79.7 145.00 L80.0 144.77 L80.2 145.27 L80.5 144.83 L80.7 144.96 L81.0 145.49 L81.2 145.50 L81.5 145.50 L81.7 145.07 L82.0 145.06 L82.2 144.92 L82.5 144.90 L82.7 145.29 L83.0 144.85 L83.2 144.92 L83.5 145.03 L83.7 145.03 L84.0 145.53 L84.2 145.07 L84.5 145.47 L84.8 145.52 L85.0 145.29 L85.3 145.16 L85.5 145.22 L85.8 145.30 L86.0 145.49 L86.3 145.16 L86.5 145.42 L86.8 145.61 L87.0 145.20 L87.3 144.82 L87.5 145.34 L87.8 145.53 L88.0 144.85 L88.3 144.77 L88.5 145.33 L88.8 145.31 L89.0 145.19 L89.3 144.43 L89.5 145.22 L89.8 144.98 L90.0 145.14 L90.3 145.77 L90.5 145.57 L90.8 145.61 L91.1 145.15 L91.3 145.24 L91.6 144.78 L91.8 145.35 L92.1 145.19 L92.3 145.26 L92.6 145.24 L92.8 144.64 L93.1 145.21 L93.3 144.88 L93.6 144.93 L93.8 145.46 L94.1 145.10 L94.3 145.40 L94.6 145.27 L94.8 145.25 L95.1 145.29 L95.3 145.43 L95.6 144.87 L95.8 145.38 L96.1 145.11 L96.3 144.84 L96.6 145.13 L96.8 145.02 L97.1 144.92 L97.4 145.01 L97.6 144.83 L97.9 145.71 L98.1 144.77 L98.4 145.31 L98.6 145.81 L98.9 145.50 L99.1 145.71 L99.4 145.33 L99.6 145.74 L99.9 145.60 L100.1 145.24 L100.4 145.28 L100.6 145.55 L100.9 145.39 L101.1 145.36 L101.4 145.31 L101.6 145.33 L101.9 145.39 L102.1 145.09 L102.4 145.78 L102.6 145.47 L102.9 145.30 L103.1 145.45 L103.4 145.49 L103.7 145.46 L103.9 145.28 L104.2 144.99 L104.4 145.39 L104.7 145.41 L104.9 145.24 L105.2 145.41 L105.4 145.88 L105.7 145.27 L105.9 145.45 L106.2 145.50 L106.4 145.17 L106.7 145.33 L106.9 145.50 L107.2 145.95 L107.4 145.83 L107.7 145.34 L107.9 145.38 L108.2 145.23 L108.4 145.29 L108.7 145.48 L108.9 145.70 L109.2 145.66 L109.4 145.39 L109.7 145.66 L110.0 145.12 L110.2 145.69 L110.5 145.80 L110.7 145.34 L111.0 145.76 L111.2 144.78 L111.5 145.49 L111.7 145.21 L112.0 145.24 L112.2 145.37 L112.5 145.62 L112.7 145.62 L113.0 144.83 L113.2 144.76 L113.5 144.42 L113.7 145.40 L114.0 144.79 L114.2 144.89 L114.5 144.59 L114.7 144.90 L115.0 144.49 L115.2 144.37 L115.5 144.37 L115.7 144.07 L116.0 144.45 L116.3 143.89 L116.5 144.45 L116.8 143.71 L117.0 144.87 L117.3 144.03 L117.5 144.18 L117.8 143.87 L118.0 143.49 L118.3 143.48 L118.5 143.55 L118.8 142.99 L119.0 143.77 L119.3 143.47 L119.5 142.71 L119.8 142.92 L120.0 143.48 L120.3 142.69 L120.5 143.00 L120.8 142.14 L121.0 142.12 L121.3 142.48 L121.5 141.85 L121.8 142.34 L122.0 141.74 L122.3 141.74 L122.6 141.84 L122.8 142.10 L123.1 141.69 L123.3 142.16 L123.6 141.58 L123.8 141.85 L124.1 140.89 L124.3 141.41 L124.6 141.73 L124.8 140.80 L125.1 140.78 L125.3 140.96 L125.6 140.20 L125.8 140.57 L126.1 140.79 L126.3 141.03 L126.6 141.72 L126.8 140.81 L127.1 140.73 L127.3 141.22 L127.6 141.51 L127.8 141.18 L128.1 141.68 L128.3 141.25 L128.6 141.06 L128.9 140.86 L129.1 141.20 L129.4 141.20 L129.6 141.03 L129.9 140.82 L130.1 141.28 L130.4 141.51 L130.6 141.37 L130.9 141.47 L131.1 141.33 L131.4 141.08 L131.6 140.89 L131.9 140.86 L132.1 140.79 L132.4 140.81 L132.6 140.48 L132.9 140.24 L133.1 140.16 L133.4 139.84 L133.6 140.23 L133.9 140.10 L134.1 139.44 L134.4 139.75 L134.6 139.57 L134.9 139.66 L135.2 139.18 L135.4 139.43 L135.7 139.47 L135.9 139.08 L136.2 139.05 L136.4 138.56 L136.7 138.76 L136.9 138.49 L137.2 138.46 L137.4 138.21 L137.7 138.43 L137.9 137.95 L138.2 138.73 L138.4 138.58 L138.7 138.85 L138.9 138.67 L139.2 139.06 L139.4 139.15 L139.7 139.59 L139.9 139.90 L140.2 140.22 L140.4 140.20 L140.7 140.46 L140.9 140.43 L141.2 140.59 L141.5 140.59 L141.7 141.03 L142.0 141.32 L142.2 141.49 L142.5 141.23 L142.7 141.20 L143.0 140.80 L143.2 141.34 L143.5 140.95 L143.7 140.96 L144.0 141.82 L144.2 141.23 L144.5 141.30 L144.7 141.29 L145.0 141.71 L145.2 141.49 L145.5 141.93 L145.7 141.86 L146.0 141.88 L146.2 141.42 L146.5 142.02 L146.7 141.72 L147.0 142.00 L147.2 142.25 L147.5 142.01 L147.8 141.92 L148.0 142.33 L148.3 141.98 L148.5 142.39 L148.8 142.46 L149.0 142.18 L149.3 142.34 L149.5 142.58 L149.8 142.81 L150.0 142.42 L150.3 142.45 L150.5 142.78 L150.8 142.76 L151.0 143.42 L151.3 143.07 L151.5 143.25 L151.8 143.47 L152.0 143.90 L152.3 143.87 L152.5 144.02 L152.8 143.91 L153.0 144.29 L153.3 144.44 L153.5 144.85 L153.8 144.52 L154.1 144.52 L154.3 145.06 L154.6 144.80 L154.8 144.94 L155.1 145.08 L155.3 145.48 L155.6 144.67 L155.8 145.73 L156.1 145.16 L156.3 145.40 L156.6 145.00 L156.8 145.47 L157.1 145.36 L157.3 145.21 L157.6 145.26 L157.8 145.53 L158.1 145.20 L158.3 145.28 L158.6 145.11 L158.8 145.53 L159.1 145.40 L159.3 145.50 L159.6 145.62 L159.8 145.32 L160.1 145.27 L160.4 144.99 L160.6 145.48 L160.9 145.28 L161.1 145.07 L161.4 145.42 L161.6 145.37 L161.9 145.35 L162.1 145.58 L162.4 145.66 L162.6 145.08 L162.9 145.34 L163.1 145.41 L163.4 145.74 L163.6 145.36 L163.9 145.06 L164.1 145.71 L164.4 145.64 L164.6 145.08 L164.9 144.99 L165.1 144.96 L165.4 145.54 L165.6 145.22 L165.9 145.60 L166.1 145.24 L166.4 145.49 L166.7 145.33 L166.9 145.02 L167.2 145.30 L167.4 145.46 L167.7 145.37 L167.9 145.32 L168.2 145.53 L168.4 145.33 L168.7 145.22 L168.9 144.96 L169.2 145.96 L169.4 145.72 L169.7 145.73 L169.9 145.15 L170.2 144.71 L170.4 145.34 L170.7 145.36 L170.9 145.07 L171.2 146.07 L171.4 145.44 L171.7 146.26 L171.9 145.35 L172.2 145.53 L172.4 145.53 L172.7 145.30 L173.0 145.55 L173.2 145.08 L173.5 145.39 L173.7 145.28 L174.0 144.68 L174.2 145.52 L174.5 145.13 L174.7 145.62 L175.0 145.04 L175.2 145.12 L175.5 145.35 L175.7 145.12 L176.0 144.94 L176.2 145.01 L176.5 145.39 L176.7 145.41 L177.0 145.08 L177.2 145.80 L177.5 145.56 L177.7 145.26 L178.0 145.23 L178.2 144.87 L178.5 144.90 L178.7 145.30 L179.0 145.27 L179.3 145.76 L179.5 145.44 L179.8 145.32 L180.0 145.45 L180.3 145.38 L180.5 145.22 L180.8 145.66 L181.0 145.55 L181.3 145.88 L181.5 145.07 L181.8 145.68 L182.0 145.86 L182.3 145.18 L182.5 145.45 L182.8 145.12 L183.0 145.49 L183.3 144.80 L183.5 145.19 L183.8 145.35 L184.0 145.36 L184.3 145.45 L184.5 145.17 L184.8 144.84 L185.0 145.51 L185.3 145.69 L185.6 145.23 L185.8 145.10 L186.1 145.81 L186.3 145.58 L186.6 145.67 L186.8 145.24 L187.1 145.25 L187.3 145.60 L187.6 145.70 L187.8 145.20 L188.1 145.96 L188.3 145.21 L188.6 145.44 L188.8 144.86 L189.1 145.12 L189.3 145.55 L189.6 145.47 L189.8 145.47 L190.1 145.59 L190.3 145.37 L190.6 145.13 L190.8 145.81 L191.1 145.46 L191.3 144.98 L191.6 145.19 L191.9 145.62 L192.1 145.62 L192.4 145.63 L192.6 145.84 L192.9 145.08 L193.1 145.37 L193.4 145.59 L193.6 145.79 L193.9 145.50 L194.1 145.53 L194.4 144.92 L194.6 145.52 L194.9 145.36 L195.1 145.10 L195.4 145.21 L195.6 145.44 L195.9 145.99 L196.1 145.01 L196.4 145.23 L196.6 145.51 L196.9 145.42 L197.1 145.66 L197.4 145.64 L197.6 145.80 L197.9 145.26 L198.2 145.25" stroke="#111111"/></g>
<g stroke="#222" stroke-width="1" stroke-dasharray="2.2 1.3"><line x1="58.5" y1="5.5" x2="58.5" y2="151"/><line x1="70.5" y1="5.5" x2="70.5" y2="151"/><line x1="125.5" y1="5.5" x2="125.5" y2="151"/><line x1="137.5" y1="5.5" x2="137.5" y2="151"/><line x1="150.5" y1="5.5" x2="150.5" y2="151"/></g>
<rect x="18.6" y="5.2" width="180" height="146.3" fill="none" stroke="#555" stroke-width="1"/>
<g stroke="#555" stroke-width="1"><line x1="30.32" y1="151.5" x2="30.32" y2="153.8"/><line x1="50.48" y1="151.5" x2="50.48" y2="152.8"/><line x1="70.64" y1="151.5" x2="70.64" y2="153.8"/><line x1="90.80" y1="151.5" x2="90.80" y2="152.8"/><line x1="110.96" y1="151.5" x2="110.96" y2="153.8"/><line x1="131.12" y1="151.5" x2="131.12" y2="152.8"/><line x1="151.28" y1="151.5" x2="151.28" y2="153.8"/><line x1="171.44" y1="151.5" x2="171.44" y2="152.8"/><line x1="191.60" y1="151.5" x2="191.60" y2="153.8"/></g>
</svg>
<div class="go" style="top:8.1px">GO-6</div><div class="go" style="top:36.9px">GO-5</div><div class="go" style="top:61.1px">GO-4</div><div class="go" style="top:83.6px">GO-3</div><div class="go" style="top:107.9px">GO-2</div><div class="go" style="top:131.1px">GO-1</div>
<div class="xt" style="left:10.3px">800</div><div class="xt" style="left:50.6px">1600</div><div class="xt" style="left:91.0px">2400</div><div class="xt" style="left:131.3px">3200</div><div class="xt" style="left:171.6px">4000</div>
<div class="lab" style="left:23.4px;top:6.5px;font-size:17px;line-height:17px;">A</div>
<div class="lab" style="left:46px;top:165.8px;font-size:14px;line-height:14px;letter-spacing:0.45px;">Raman shift (cm<sup style="font-size:8.6px;vertical-align:0;position:relative;top:-6px;letter-spacing:0.2px">-1</sup>)</div>
<div class="lab" style="left:1px;top:128px;font-size:14px;line-height:14px;letter-spacing:0.86px;transform:rotate(-90deg);transform-origin:0 0;">Intensity (a.u.)</div>
<div class="m" id="mB" style="left:217.8px;top:5.0px;width:154.5px;height:154.0px;background:linear-gradient(to right,#05bf06 0%,#97d903 10%,#ebf901 20%,#f7fc03 30%,#fcfe00 40%,#fefe01 50%,#ffff00 60%,#fefe04 70%,#fefe01 80%,#fefe00 90%,#ffff00 100%)"><canvas width="154" height="154" style="width:154.5px;height:154.0px"></canvas></div>
<div class="pl" style="left:224.6px;top:8.4px;transform:scaleX(0.92);transform-origin:0 0">B</div>
<div class="lg" style="left:319.2px;top:113.7px;width:52.4px;height:44.9px"></div>
<div style="position:absolute;left:322.2px;top:120.0px;width:19.4px;height:2.8px;background:#0000ff"></div>
<div class="tk" style="left:346.8px;top:116.9px;font-size:9px;line-height:9px">1595</div>
<div style="position:absolute;left:322.2px;top:130.0px;width:19.4px;height:2.8px;background:#05c005"></div>
<div class="tk" style="left:346.8px;top:126.9px;font-size:9px;line-height:9px">1600</div>
<div style="position:absolute;left:322.2px;top:139.4px;width:19.4px;height:2.8px;background:#ffff00"></div>
<div class="tk" style="left:346.8px;top:136.3px;font-size:9px;line-height:9px">1605</div>
<div style="position:absolute;left:322.2px;top:148.8px;width:19.4px;height:2.8px;background:#ff8000"></div>
<div class="tk" style="left:346.8px;top:145.7px;font-size:9px;line-height:9px">1610</div>
<div class="tk" style="left:380.3px;top:1.7px">-10</div>
<div class="tk" style="left:380.3px;top:40.1px">-5</div>
<div class="tk" style="left:383.3px;top:78.7px">0</div>
<div class="tk" style="left:383.3px;top:117.2px">5</div>
<div class="tk" style="left:383.3px;top:155.7px">10</div>
<div class="tk" style="left:202.8px;top:169.0px;width:30px;text-align:center">-10</div>
<div class="tk" style="left:241.4px;top:169.0px;width:30px;text-align:center">-5</div>
<div class="tk" style="left:280.1px;top:169.0px;width:30px;text-align:center">0</div>
<div class="tk" style="left:318.7px;top:169.0px;width:30px;text-align:center">5</div>
<div class="tk" style="left:357.3px;top:169.0px;width:30px;text-align:center">10</div>
<div class="xl" style="left:265.1px;top:176.5px">X (µm)</div>
<div class="yl" style="left:390.1px;top:95.9px">Y (µm)</div>
<div class="m" id="mC" style="left:416.2px;top:4.7px;width:154.6px;height:154.0px;background:linear-gradient(to right,#d2be06 0%,#96df00 10%,#73c030 20%,#49995b 30%,#358671 40%,#217488 50%,#11649c 60%,#11649a 70%,#0e629d 80%,#0b5f9e 90%,#0d60a1 100%)"><canvas width="154" height="154" style="width:154.6px;height:154.0px"></canvas></div>
<div class="pl" style="left:422.9px;top:7.2px;transform:scaleX(0.92);transform-origin:0 0">C</div>
<div class="lg" style="left:526.9px;top:113.3px;width:43.9px;height:45.4px"></div>
<div style="position:absolute;left:530.0px;top:119.6px;width:19.1px;height:2.8px;background:#000090"></div>
<div class="tk" style="left:553.7px;top:116.5px;font-size:9px;line-height:9px">60</div>
<div style="position:absolute;left:530.0px;top:129.2px;width:19.1px;height:2.8px;background:#0050a0"></div>
<div class="tk" style="left:553.7px;top:126.1px;font-size:9px;line-height:9px">70</div>
<div style="position:absolute;left:530.0px;top:138.9px;width:19.1px;height:2.8px;background:#99dd00"></div>
<div class="tk" style="left:553.7px;top:135.8px;font-size:9px;line-height:9px">80</div>
<div style="position:absolute;left:530.0px;top:148.3px;width:19.1px;height:2.8px;background:#ff9900"></div>
<div class="tk" style="left:553.7px;top:145.2px;font-size:9px;line-height:9px">90</div>
<div class="tk" style="left:578.0px;top:1.3px">-10</div>
<div class="tk" style="left:578.0px;top:39.9px">-5</div>
<div class="tk" style="left:581.0px;top:78.4px">0</div>
<div class="tk" style="left:581.0px;top:116.9px">5</div>
<div class="tk" style="left:581.0px;top:155.3px">10</div>
<div class="tk" style="left:401.2px;top:168.2px;width:30px;text-align:center">-10</div>
<div class="tk" style="left:439.8px;top:168.2px;width:30px;text-align:center">-5</div>
<div class="tk" style="left:478.5px;top:168.2px;width:30px;text-align:center">0</div>
<div class="tk" style="left:517.1px;top:168.2px;width:30px;text-align:center">5</div>
<div class="tk" style="left:555.8px;top:168.2px;width:30px;text-align:center">10</div>
<div class="xl" style="left:463.5px;top:176.6px">X (µm)</div>
<div class="yl" style="left:589.0px;top:96.1px">Y (µm)</div>
<div class="m" id="mD" style="left:9.2px;top:196.2px;width:154.5px;height:154.2px;background:linear-gradient(to right,#3a9f3b 0%,#117564 10%,#0a7770 20%,#097571 30%,#0e6f7b 40%,#105d90 50%,#0a5099 60%,#0b519b 70%,#0d2cc0 80%,#122bc5 90%,#112bc4 100%)"><canvas width="154" height="154" style="width:154.5px;height:154.2px"></canvas></div>
<div class="pl" style="left:16.2px;top:200.6px;transform:scaleX(0.98);transform-origin:0 0">D</div>
<div class="lg" style="left:110.3px;top:303.2px;width:53.4px;height:47.0px"></div>
<div style="position:absolute;left:113.3px;top:310.8px;width:19.3px;height:2.8px;background:#0000e0"></div>
<div class="tk" style="left:137.8px;top:307.7px;font-size:9px;line-height:9px">1352</div>
<div style="position:absolute;left:113.3px;top:320.5px;width:19.3px;height:2.8px;background:#006e78"></div>
<div class="tk" style="left:137.8px;top:317.4px;font-size:9px;line-height:9px">1354</div>
<div style="position:absolute;left:113.3px;top:330.4px;width:19.3px;height:2.8px;background:#66cc00"></div>
<div class="tk" style="left:137.8px;top:327.3px;font-size:9px;line-height:9px">1356</div>
<div style="position:absolute;left:113.3px;top:339.8px;width:19.3px;height:2.8px;background:#ffcc00"></div>
<div class="tk" style="left:137.8px;top:336.7px;font-size:9px;line-height:9px">1358</div>
<div class="tk" style="left:171.5px;top:192.8px">-10</div>
<div class="tk" style="left:171.5px;top:231.4px">-5</div>
<div class="tk" style="left:174.5px;top:269.9px">0</div>
<div class="tk" style="left:174.5px;top:308.5px">5</div>
<div class="tk" style="left:174.5px;top:347.0px">10</div>
<div class="tk" style="left:-5.8px;top:359.4px;width:30px;text-align:center">-10</div>
<div class="tk" style="left:32.8px;top:359.4px;width:30px;text-align:center">-5</div>
<div class="tk" style="left:71.5px;top:359.4px;width:30px;text-align:center">0</div>
<div class="tk" style="left:110.1px;top:359.4px;width:30px;text-align:center">5</div>
<div class="tk" style="left:148.7px;top:359.4px;width:30px;text-align:center">10</div>
<div class="xl" style="left:56.5px;top:371.0px">X (µm)</div>
<div class="yl" style="left:187.2px;top:287.2px">Y (µm)</div>
<div class="m" id="mE" style="left:215.9px;top:196.2px;width:154.8px;height:154.0px;background:linear-gradient(to right,#8b70fe 0%,#fa00fa 10%,#f901fe 20%,#df01fc 30%,#b301f9 40%,#a901f9 50%,#8600f7 60%,#7100f5 70%,#8200f6 80%,#7a01f6 90%,#8300f7 100%)"><canvas width="154" height="154" style="width:154.8px;height:154.0px"></canvas></div>
<div class="pl" style="left:222.4px;top:200.2px;transform:scaleX(0.84);transform-origin:0 0">E</div>
<div class="lg" style="left:322.9px;top:304.9px;width:47.8px;height:45.3px"></div>
<div style="position:absolute;left:325.8px;top:311.0px;width:19.2px;height:2.8px;background:#00ee00"></div>
<div class="tk" style="left:349.6px;top:307.9px;font-size:9px;line-height:9px">100</div>
<div style="position:absolute;left:325.8px;top:320.4px;width:19.2px;height:2.8px;background:#0000e0"></div>
<div class="tk" style="left:349.6px;top:317.3px;font-size:9px;line-height:9px">110</div>
<div style="position:absolute;left:325.8px;top:330.0px;width:19.2px;height:2.8px;background:#ff00ff"></div>
<div class="tk" style="left:349.6px;top:326.9px;font-size:9px;line-height:9px">120</div>
<div style="position:absolute;left:325.8px;top:339.7px;width:19.2px;height:2.8px;background:#00ffff"></div>
<div class="tk" style="left:349.6px;top:336.6px;font-size:9px;line-height:9px">130</div>
<div class="tk" style="left:378.5px;top:192.8px">-10</div>
<div class="tk" style="left:378.5px;top:231.3px">-5</div>
<div class="tk" style="left:381.5px;top:269.8px">0</div>
<div class="tk" style="left:381.5px;top:308.3px">5</div>
<div class="tk" style="left:381.5px;top:346.8px">10</div>
<div class="tk" style="left:200.9px;top:359.3px;width:30px;text-align:center">-10</div>
<div class="tk" style="left:239.6px;top:359.3px;width:30px;text-align:center">-5</div>
<div class="tk" style="left:278.3px;top:359.3px;width:30px;text-align:center">0</div>
<div class="tk" style="left:317.0px;top:359.3px;width:30px;text-align:center">5</div>
<div class="tk" style="left:355.7px;top:359.3px;width:30px;text-align:center">10</div>
<div class="xl" style="left:263.3px;top:371.3px">X (µm)</div>
<div class="yl" style="left:393.9px;top:287.6px">Y (µm)</div>
<div class="m" id="mF" style="left:417.9px;top:196.0px;width:154.7px;height:154.0px;background:linear-gradient(to right,#b5d311 0%,#a2ca17 10%,#aecd18 20%,#a6cb18 30%,#afc719 40%,#bdc916 50%,#bac519 60%,#bac816 70%,#b2cb17 80%,#acca1a 90%,#a9ce16 100%)"><canvas width="154" height="154" style="width:154.7px;height:154.0px"></canvas></div>
<div class="pl" style="left:424.6px;top:199.2px;transform:scaleX(0.90);transform-origin:0 0">F</div>
<div class="lg" style="left:521.6px;top:294.5px;width:51.0px;height:55.4px"></div>
<div style="position:absolute;left:524.8px;top:301.1px;width:19.2px;height:2.8px;background:#00704a"></div>
<div class="tk" style="left:548.4px;top:298.0px;font-size:9px;line-height:9px">0.92</div>
<div style="position:absolute;left:524.8px;top:310.8px;width:19.2px;height:2.8px;background:#44cc00"></div>
<div class="tk" style="left:548.4px;top:307.7px;font-size:9px;line-height:9px">0.94</div>
<div style="position:absolute;left:524.8px;top:320.6px;width:19.2px;height:2.8px;background:#ffee00"></div>
<div class="tk" style="left:548.4px;top:317.5px;font-size:9px;line-height:9px">0.96</div>
<div style="position:absolute;left:524.8px;top:330.5px;width:19.2px;height:2.8px;background:#ffaa00"></div>
<div class="tk" style="left:548.4px;top:327.4px;font-size:9px;line-height:9px">0.98</div>
<div style="position:absolute;left:524.8px;top:340.2px;width:19.2px;height:2.8px;background:#ff5500"></div>
<div class="tk" style="left:548.4px;top:337.1px;font-size:9px;line-height:9px">1.00</div>
<div class="tk" style="left:580.5px;top:192.7px">-10</div>
<div class="tk" style="left:580.5px;top:231.2px">-5</div>
<div class="tk" style="left:583.5px;top:269.6px">0</div>
<div class="tk" style="left:583.5px;top:308.1px">5</div>
<div class="tk" style="left:583.5px;top:346.6px">10</div>
<div class="tk" style="left:402.9px;top:358.8px;width:30px;text-align:center">-10</div>
<div class="tk" style="left:441.6px;top:358.8px;width:30px;text-align:center">-5</div>
<div class="tk" style="left:480.2px;top:358.8px;width:30px;text-align:center">0</div>
<div class="tk" style="left:518.9px;top:358.8px;width:30px;text-align:center">5</div>
<div class="tk" style="left:557.6px;top:358.8px;width:30px;text-align:center">10</div>
<div class="xl" style="left:465.2px;top:367.8px">X (µm)</div>
<div class="yl" style="left:591.6px;top:287.3px">Y (µm)</div>
<script>
(function(){
function rng(a){return function(){a|=0;a=a+0x6D2B79F5|0;var t=Math.imul(a^a>>>15,1|a);t=t+Math.imul(t^t>>>7,61|t)^t;return((t^t>>>14)>>>0)/4294967296;};}
function hx(c){return [parseInt(c.substr(1,2),16),parseInt(c.substr(3,2),16),parseInt(c.substr(5,2),16)];}
function sig(x){return 1/(1+Math.exp(-x));}
function cl(x){return x<0?0:x>1?1:x;}
function ramp(x,a,b){return cl((x-a)/(b-a));}
function ncdf(z){var t=1/(1+0.2316419*Math.abs(z)),d=0.3989423*Math.exp(-z*z/2),p=d*t*(0.3193815+t*(-0.3565638+t*(1.781478+t*(-1.821256+t*1.330274))));return z>0?1-p:p;}
function field(N,r,bl){
  var a=new Float32Array(N*N),b=new Float32Array(N*N),i,j;
  for(i=0;i<N*N;i++)a[i]=r()*2-1;
  if(!bl)return a.map(function(x){return (x+1)/2;});
  // separable blur 1-2-1 (bl passes)
  var w=[bl,1,bl],ws=1+2*bl*1;
  for(j=0;j<N;j++)for(i=0;i<N;i++){var s=0,n=0;for(var k=-1;k<=1;k++){var ii=i+k;if(ii<0||ii>=N)continue;var ww=k?bl:1;s+=a[j*N+ii]*ww;n+=ww*ww;}b[j*N+i]=s/Math.sqrt(n);}
  for(j=0;j<N;j++)for(i=0;i<N;i++){var s=0,n=0;for(var k=-1;k<=1;k++){var jj=j+k;if(jj<0||jj>=N)continue;var ww=k?bl:1;s+=b[jj*N+i]*ww;n+=ww*ww;}a[j*N+i]=s/Math.sqrt(n);}
  // a is approx normal with var 1/3
  for(i=0;i<N*N;i++)a[i]=ncdf(a[i]*1.732);
  return a;
}
function draw(id,seed,cols,fn,opt){
  opt=opt||{};
  var cv=document.querySelector('#m'+id+' canvas');var ctx=cv.getContext('2d');
  var N=cv.width,img=ctx.createImageData(N,N),d=img.data,r=rng(seed);
  var C=cols.map(hx);var F=field(N,r,opt.bl===undefined?0.6:opt.bl);
  var nan=opt.nan===undefined?0.004:opt.nan,i,j;
  for(j=0;j<N;j++)for(i=0;i<N;i++){
    var u=(i+0.5)/N,v=(j+0.5)/N;var p=fn(u,v);var x=F[j*N+i],acc=0,k;
    for(k=0;k<p.length-1;k++){acc+=p[k];if(x<acc)break;}
    var c=C[k];
    var o=(j*N+i)*4;d[o]=c[0];d[o+1]=c[1];d[o+2]=c[2];d[o+3]=255;
  }
  // NaN speckles (small light blobs)
  var cnt=Math.round(N*N*nan);
  for(var q=0;q<cnt;q++){var i0=Math.floor(r()*(N-1)),j0=Math.floor(r()*(N-1));var g=228+r()*27;
    for(var dj=0;dj<2;dj++)for(var di=0;di<2;di++){if(r()<0.2&&(di||dj))continue;var o=((j0+dj)*N+i0+di)*4;d[o]=g;d[o+1]=g;d[o+2]=Math.min(255,g+8);}}
  var kw=opt.kw===undefined?0.2:opt.kw;
  if(kw>0){var tmp=new Float32Array(N*N*3),q,ch;
    for(j=0;j<N;j++)for(i=0;i<N;i++)for(ch=0;ch<3;ch++){var a0=d[(j*N+i)*4+ch],l=i>0?d[(j*N+i-1)*4+ch]:a0,rr=i<N-1?d[(j*N+i+1)*4+ch]:a0;tmp[(j*N+i)*3+ch]=a0*(1-2*kw)+(l+rr)*kw;}
    for(j=0;j<N;j++)for(i=0;i<N;i++)for(ch=0;ch<3;ch++){var a0=tmp[(j*N+i)*3+ch],t0=j>0?tmp[((j-1)*N+i)*3+ch]:a0,b0=j<N-1?tmp[((j+1)*N+i)*3+ch]:a0;d[(j*N+i)*4+ch]=a0*(1-2*kw)+(t0+b0)*kw;}
  }
  ctx.putImageData(img,0,0);
}
// B: blue, green, yellow, orange
draw('B',11,['#0000ff','#05c005','#ffff00','#ff8000'],function(u,v){
  var s=0.034+0.16*Math.exp(-v/0.12)+0.025*ramp(v,0.6,1);
  var L=0.035+0.06*Math.exp(-v/0.15);
  var pg=u<s?1:0.8*Math.exp(-(u-s)/L);
  if(u<0.005&&v<0.06)return[1,0,0,0];
  return[0,pg,1-pg,0];
},{nan:0.0015,bl:0.1});
// C: navy, blue, lime, orange
draw('C',23,['#000090','#0055aa','#9ce800','#ff9900'],function(u,v){
  var ow=0.016+0.012*Math.exp(-v/0.3)+0.02*Math.exp(-v/0.06);
  if(u<ow)return[0,0,0.15,0.85];
  var c=0.27+0.04*v+0.1*v*v, s=0.07+0.03*v, pm=0.97-0.12*v-0.12*Math.exp(-v/0.05);
  var pb=pm*sig((u-c)/s)*ramp(u,0.11,0.17);
  return[0.003,pb,1-pb-0.003,0];
},{nan:0.0025,bl:0.1});
// D: blue, teal, lime, gold
draw('D',37,['#1010e0','#06786f','#70d000','#ffcc00'],function(u,v){
  var lw=0.011+0.025*ramp(v,0.85,1)+0.035*sig((0.11-v)/0.02);
  if(u<lw)return[0,0.1,0.9,0];
  var pl=0.3*Math.exp(-(u-lw)/0.012)+0.9*sig((0.1-u)/0.02)*sig((0.14-v)/0.03)+0.25*Math.exp(-u/0.06-v/0.1)+0.025+0.05*ramp(v,0.5,1)*(1-ramp(u,0.45,0.65))-0.02*ramp(u,0.4,0.7);
  var pb=0.05+0.34*sig((u-(0.37+0.23*v))/0.03);
  var rb=sig((u-0.72)/0.008)*sig((0.65-v)/0.01);
  pb=pb*(1-rb)+0.78*rb;
  if(u>0.72)pb=Math.max(pb,0.42);
  pl=Math.max(0,Math.min(pl,1-pb));
  return[pb,1-pb-pl,pl,0];
},{nan:0.0025,bl:0.0});
// E: green, blue, magenta, cyan
draw('E',41,['#00ee00','#1000f0','#ff00ff','#00ffff'],function(u,v){
  var cw=0.015+0.015*sig((0.12-v)/0.03);
  if(u<cw)return[0,0.05,0.1,0.85];
  var pc=0.3*Math.exp(-(u-cw)/0.01)+0.5*sig((0.06-u)/0.015)*sig((0.15-v)/0.03);
  var pb=(0.62-0.15*v)*sig((u-0.45)/0.1)*ramp(u,0.1,0.16);
  pc=Math.min(pc,1-pb);
  return[0,pb,1-pb-pc,pc];
},{nan:0.0025,bl:0.1});
// F: dkgreen, green, yellow, orange, red
draw('F',53,['#00704a','#5ec820','#f4f000','#ffa820','#ff5a00'],function(u,v){
  var t1=Math.exp(-(Math.pow((u-0.6)/0.3,2)+Math.pow(v/0.2,2)));
  var t2=0.5*Math.exp(-(Math.pow((u-0.55)/0.15,2)+Math.pow((v-0.4)/0.2,2)));
  var t=Math.max(t1,t2);
  var dk=0.05+0.01*v-0.03*t,g=0.40+0.1*v-0.3*t,y=0.38-0.04*t,o=0.08+0.45*t,rd=0.008+0.06*t;
  var le=Math.exp(-u/0.03);y+=0.4*le;g-=0.3*le;
  g=Math.max(g,0.05);
  var s=dk+g+y+o+rd;return[dk/s,g/s,y/s,o/s,rd/s];
},{nan:0.002,bl:0.12,kw:0.12});
})();
</script>

</body></html>
